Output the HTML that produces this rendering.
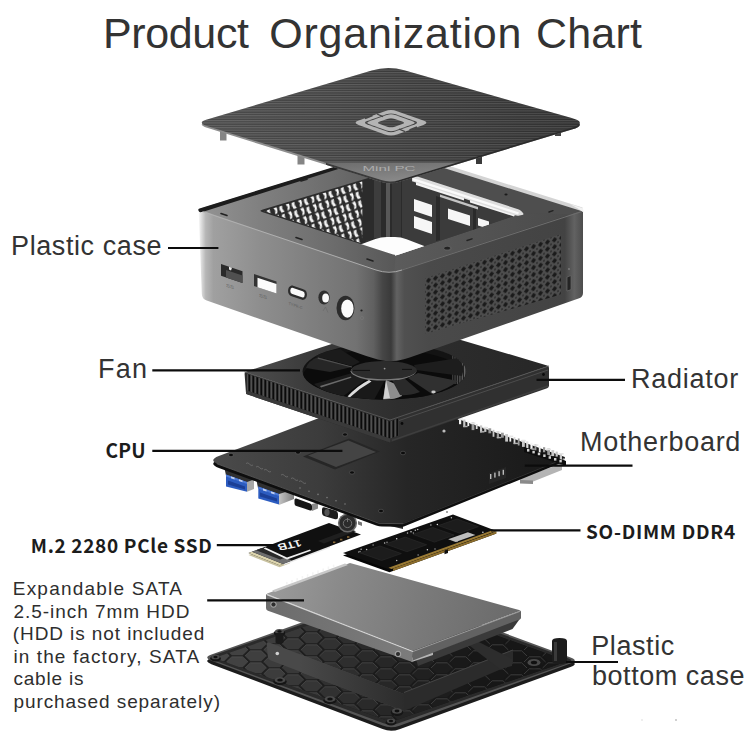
<!DOCTYPE html>
<html lang="en">
<head>
<meta charset="utf-8">
<title>Product Organization Chart</title>
<style>
html,body{margin:0;padding:0;background:#fff;}
body{width:750px;height:750px;position:relative;overflow:hidden;font-family:"Liberation Sans",sans-serif;color:#333;}
#art{position:absolute;left:0;top:0;width:750px;height:750px;}
</style>
</head>
<body>
<svg id="art" viewBox="0 0 750 750" width="750" height="750">
<defs>
<clipPath id="botc"><path d="M219.6,660.0 Q214.0,658.0 219.7,656.0 L390.0,597.0 L562.4,659.0 Q568.0,661.0 562.3,663.0 L396.7,720.0 Q391.0,722.0 385.4,720.0 Z"/></clipPath>
<linearGradient id="botg" gradientUnits="userSpaceOnUse" x1="206" y1="0" x2="576" y2="0"><stop offset="0" stop-color="#222"/><stop offset="1" stop-color="#141414"/></linearGradient>
<linearGradient id="stripg" gradientUnits="userSpaceOnUse" x1="300" y1="0" x2="404" y2="0"><stop offset="0" stop-color="#494949"/><stop offset="1" stop-color="#2c2c2c"/></linearGradient>
<linearGradient id="hddtop" gradientUnits="userSpaceOnUse" x1="266" y1="580" x2="500" y2="640"><stop offset="0" stop-color="#9c9c9c"/><stop offset=".3" stop-color="#8a8a8a"/><stop offset=".65" stop-color="#7a7a7a"/><stop offset="1" stop-color="#6c6c6c"/></linearGradient>
<linearGradient id="hddfl" gradientUnits="userSpaceOnUse" x1="266" y1="0" x2="413" y2="0"><stop offset="0" stop-color="#6c6c6c"/><stop offset="1" stop-color="#7c7c7c"/></linearGradient>
<linearGradient id="mbtop" gradientUnits="userSpaceOnUse" x1="215" y1="0" x2="565" y2="0"><stop offset="0" stop-color="#4a4a4a"/><stop offset=".3" stop-color="#3c3c3c"/><stop offset=".55" stop-color="#262626"/><stop offset="1" stop-color="#181818"/></linearGradient>
<linearGradient id="usbm" x1="0" y1="0" x2="1" y2="0"><stop offset="0" stop-color="#c4c4c4"/><stop offset="1" stop-color="#7c7c7c"/></linearGradient>
<linearGradient id="radtop" gradientUnits="userSpaceOnUse" x1="245" y1="0" x2="549" y2="0"><stop offset="0" stop-color="#4e4e4e"/><stop offset=".2" stop-color="#3c3c3c"/><stop offset=".5" stop-color="#2e2e2e"/><stop offset="1" stop-color="#272727"/></linearGradient>
<pattern id="fins" width="4" height="10" patternUnits="userSpaceOnUse" patternTransform="translate(246.5,0)"><rect width="4" height="10" fill="#0a0a0a"/><rect x="0" width="1.5" height="10" fill="#686868"/></pattern>
<clipPath id="fanc"><ellipse cx="384.4" cy="371.5" rx="81.8" ry="28.2"/></clipPath>
<linearGradient id="cfl" gradientUnits="userSpaceOnUse" x1="198" y1="0" x2="584" y2="0"><stop offset="0" stop-color="#ffffff"/><stop offset=".008" stop-color="#e0e0e0"/><stop offset=".02" stop-color="#b6b6b6"/><stop offset=".04" stop-color="#a0a0a0"/><stop offset=".16" stop-color="#8e8e8e"/><stop offset=".32" stop-color="#7c7c7c"/><stop offset=".41" stop-color="#727272"/><stop offset=".455" stop-color="#606060"/><stop offset=".478" stop-color="#464646"/><stop offset=".5" stop-color="#3a3a3a"/><stop offset=".515" stop-color="#626262"/><stop offset=".535" stop-color="#505050"/><stop offset=".6" stop-color="#4a4a4a"/><stop offset=".95" stop-color="#434343"/><stop offset=".975" stop-color="#626262"/><stop offset="1" stop-color="#4a4a4a"/></linearGradient>
<linearGradient id="rimL" gradientUnits="userSpaceOnUse" x1="199" y1="0" x2="400" y2="0"><stop offset="0" stop-color="#949494"/><stop offset=".3" stop-color="#808080"/><stop offset=".7" stop-color="#6a6a6a"/><stop offset="1" stop-color="#565656"/></linearGradient>
<linearGradient id="rimR" gradientUnits="userSpaceOnUse" x1="390" y1="0" x2="583" y2="0"><stop offset="0" stop-color="#5c5c5c"/><stop offset=".4" stop-color="#545454"/><stop offset="1" stop-color="#4a4a4a"/></linearGradient>
<pattern id="ventw" width="12.3" height="8.6" patternUnits="userSpaceOnUse" patternTransform="matrix(1,-0.3,0.30,1,259,211)"><rect width="12.3" height="8.6" fill="#2b2b2b"/><path d="M1.4,0.8 L4.6,0.2 L5.0,3.4 L4.0,7.0 L1.6,7.6 L2.8,4.0Z" fill="#f7f7f7"/><path d="M7.4,1.4 L10.4,0.8 L9.8,4.2 L11.0,7.6 L8.0,8.0 L7.0,4.6Z" fill="#f0f0f0"/></pattern>
<pattern id="ventd" width="7" height="7" patternUnits="userSpaceOnUse" patternTransform="matrix(1,-0.322,0,1,425,278)"><rect width="7" height="7" fill="#4d4d4d"/><path d="M0.9,3.5 L3.5,0.8 L6.1,3.5 L3.5,6.2Z" fill="#1a1a1a"/><circle cx="0" cy="0" r=".8" fill="#1a1a1a"/><circle cx="7" cy="0" r=".8" fill="#1a1a1a"/><circle cx="0" cy="7" r=".8" fill="#1a1a1a"/><circle cx="7" cy="7" r=".8" fill="#1a1a1a"/></pattern>
<clipPath id="rimc"><path d="M201.8,210.5 Q199.0,209.5 201.9,208.6 L391.0,151.0 L580.1,209.1 Q583.0,210.0 580.2,210.9 L402.3,269.6 Q389.0,274.0 375.7,269.5 Z M262.8,212.3 Q258.0,210.8 262.8,209.4 L390.0,171.5 L520.1,212.1 Q523.0,213.0 520.2,214.0 L398.8,254.5 Q396.0,255.5 393.1,254.6 Z" clip-rule="evenodd"/></clipPath>
<linearGradient id="lidg" gradientUnits="userSpaceOnUse" x1="200" y1="0" x2="580" y2="0"><stop offset="0" stop-color="#545454"/><stop offset=".3" stop-color="#4c4c4c"/><stop offset=".55" stop-color="#434343"/><stop offset="1" stop-color="#353535"/></linearGradient>
<linearGradient id="bandg" x1="0" y1="0" x2="0.3" y2="1"><stop offset="0" stop-color="#6c6c6c"/><stop offset="1" stop-color="#929292"/></linearGradient>
<pattern id="ridge" width="6" height="2.4" patternUnits="userSpaceOnUse"><rect width="6" height="1.1" fill="#fff" opacity=".12"/><rect y="1.3" width="6" height=".9" fill="#000" opacity=".2"/></pattern>
<clipPath id="lidc"><path d="M207.0,126.0 Q196.5,122.7 207.0,119.6 L371.7,70.5 Q388.0,65.6 404.3,70.3 L571.7,118.1 Q588.0,122.8 571.7,127.7 L398.6,180.2 Q390.0,182.8 381.4,180.1 Z"/></clipPath>
</defs>
<g id="bottom">
<path d="M211.4,660.7 Q203.0,657.5 211.5,654.5 L390.0,591.0 L570.6,657.4 Q579.0,660.5 570.5,663.6 L399.5,725.7 Q391.0,728.8 382.6,725.6 Z" fill="#1c1c1c" transform="translate(0,3.5)"/>
<path d="M211.4,660.7 Q203.0,657.5 211.5,654.5 L390.0,591.0 L570.6,657.4 Q579.0,660.5 570.5,663.6 L399.5,725.7 Q391.0,728.8 382.6,725.6 Z" fill="#555"/>
<path d="M214.5,660.5 Q207.0,657.7 214.5,655.1 L390.0,593.5 L567.5,658.0 Q575.0,660.7 567.5,663.4 L398.5,723.3 Q391.0,726.0 383.5,723.2 Z" fill="#2a2a2a"/>
<path d="M219.6,660.0 Q214.0,658.0 219.7,656.0 L390.0,597.0 L562.4,659.0 Q568.0,661.0 562.3,663.0 L396.7,720.0 Q391.0,722.0 385.4,720.0 Z" fill="url(#botg)"/>
<g clip-path="url(#botc)">
<path d="M189.2,590.0 L194.6,584.8 L205.4,584.8 L210.8,590.0 L205.4,595.2 L194.6,595.2Z" fill="#494949"/>
<path d="M189.2,602.0 L194.6,596.8 L205.4,596.8 L210.8,602.0 L205.4,607.2 L194.6,607.2Z" fill="#494949"/>
<path d="M189.2,614.0 L194.6,608.8 L205.4,608.8 L210.8,614.0 L205.4,619.2 L194.6,619.2Z" fill="#494949"/>
<path d="M189.2,626.0 L194.6,620.8 L205.4,620.8 L210.8,626.0 L205.4,631.2 L194.6,631.2Z" fill="#494949"/>
<path d="M189.2,638.0 L194.6,632.8 L205.4,632.8 L210.8,638.0 L205.4,643.2 L194.6,643.2Z" fill="#494949"/>
<path d="M189.2,650.0 L194.6,644.8 L205.4,644.8 L210.8,650.0 L205.4,655.2 L194.6,655.2Z" fill="#494949"/>
<path d="M189.2,662.0 L194.6,656.8 L205.4,656.8 L210.8,662.0 L205.4,667.2 L194.6,667.2Z" fill="#494949"/>
<path d="M189.2,674.0 L194.6,668.8 L205.4,668.8 L210.8,674.0 L205.4,679.2 L194.6,679.2Z" fill="#494949"/>
<path d="M189.2,686.0 L194.6,680.8 L205.4,680.8 L210.8,686.0 L205.4,691.2 L194.6,691.2Z" fill="#494949"/>
<path d="M189.2,698.0 L194.6,692.8 L205.4,692.8 L210.8,698.0 L205.4,703.2 L194.6,703.2Z" fill="#494949"/>
<path d="M189.2,710.0 L194.6,704.8 L205.4,704.8 L210.8,710.0 L205.4,715.2 L194.6,715.2Z" fill="#494949"/>
<path d="M189.2,722.0 L194.6,716.8 L205.4,716.8 L210.8,722.0 L205.4,727.2 L194.6,727.2Z" fill="#494949"/>
<path d="M189.2,734.0 L194.6,728.8 L205.4,728.8 L210.8,734.0 L205.4,739.2 L194.6,739.2Z" fill="#494949"/>
<path d="M207.8,596.0 L213.2,590.8 L224.0,590.8 L229.4,596.0 L224.0,601.2 L213.2,601.2Z" fill="#464646"/>
<path d="M207.8,608.0 L213.2,602.8 L224.0,602.8 L229.4,608.0 L224.0,613.2 L213.2,613.2Z" fill="#464646"/>
<path d="M207.8,620.0 L213.2,614.8 L224.0,614.8 L229.4,620.0 L224.0,625.2 L213.2,625.2Z" fill="#464646"/>
<path d="M207.8,632.0 L213.2,626.8 L224.0,626.8 L229.4,632.0 L224.0,637.2 L213.2,637.2Z" fill="#464646"/>
<path d="M207.8,644.0 L213.2,638.8 L224.0,638.8 L229.4,644.0 L224.0,649.2 L213.2,649.2Z" fill="#464646"/>
<path d="M207.8,656.0 L213.2,650.8 L224.0,650.8 L229.4,656.0 L224.0,661.2 L213.2,661.2Z" fill="#464646"/>
<path d="M207.8,668.0 L213.2,662.8 L224.0,662.8 L229.4,668.0 L224.0,673.2 L213.2,673.2Z" fill="#464646"/>
<path d="M207.8,680.0 L213.2,674.8 L224.0,674.8 L229.4,680.0 L224.0,685.2 L213.2,685.2Z" fill="#464646"/>
<path d="M207.8,692.0 L213.2,686.8 L224.0,686.8 L229.4,692.0 L224.0,697.2 L213.2,697.2Z" fill="#464646"/>
<path d="M207.8,704.0 L213.2,698.8 L224.0,698.8 L229.4,704.0 L224.0,709.2 L213.2,709.2Z" fill="#464646"/>
<path d="M207.8,716.0 L213.2,710.8 L224.0,710.8 L229.4,716.0 L224.0,721.2 L213.2,721.2Z" fill="#464646"/>
<path d="M207.8,728.0 L213.2,722.8 L224.0,722.8 L229.4,728.0 L224.0,733.2 L213.2,733.2Z" fill="#464646"/>
<path d="M226.4,590.0 L231.8,584.8 L242.6,584.8 L248.0,590.0 L242.6,595.2 L231.8,595.2Z" fill="#424242"/>
<path d="M226.4,602.0 L231.8,596.8 L242.6,596.8 L248.0,602.0 L242.6,607.2 L231.8,607.2Z" fill="#424242"/>
<path d="M226.4,614.0 L231.8,608.8 L242.6,608.8 L248.0,614.0 L242.6,619.2 L231.8,619.2Z" fill="#424242"/>
<path d="M226.4,626.0 L231.8,620.8 L242.6,620.8 L248.0,626.0 L242.6,631.2 L231.8,631.2Z" fill="#424242"/>
<path d="M226.4,638.0 L231.8,632.8 L242.6,632.8 L248.0,638.0 L242.6,643.2 L231.8,643.2Z" fill="#424242"/>
<path d="M226.4,650.0 L231.8,644.8 L242.6,644.8 L248.0,650.0 L242.6,655.2 L231.8,655.2Z" fill="#424242"/>
<path d="M226.4,662.0 L231.8,656.8 L242.6,656.8 L248.0,662.0 L242.6,667.2 L231.8,667.2Z" fill="#424242"/>
<path d="M226.4,674.0 L231.8,668.8 L242.6,668.8 L248.0,674.0 L242.6,679.2 L231.8,679.2Z" fill="#424242"/>
<path d="M226.4,686.0 L231.8,680.8 L242.6,680.8 L248.0,686.0 L242.6,691.2 L231.8,691.2Z" fill="#424242"/>
<path d="M226.4,698.0 L231.8,692.8 L242.6,692.8 L248.0,698.0 L242.6,703.2 L231.8,703.2Z" fill="#424242"/>
<path d="M226.4,710.0 L231.8,704.8 L242.6,704.8 L248.0,710.0 L242.6,715.2 L231.8,715.2Z" fill="#424242"/>
<path d="M226.4,722.0 L231.8,716.8 L242.6,716.8 L248.0,722.0 L242.6,727.2 L231.8,727.2Z" fill="#424242"/>
<path d="M226.4,734.0 L231.8,728.8 L242.6,728.8 L248.0,734.0 L242.6,739.2 L231.8,739.2Z" fill="#424242"/>
<path d="M245.0,596.0 L250.4,590.8 L261.2,590.8 L266.6,596.0 L261.2,601.2 L250.4,601.2Z" fill="#3f3f3f"/>
<path d="M245.0,608.0 L250.4,602.8 L261.2,602.8 L266.6,608.0 L261.2,613.2 L250.4,613.2Z" fill="#3f3f3f"/>
<path d="M245.0,620.0 L250.4,614.8 L261.2,614.8 L266.6,620.0 L261.2,625.2 L250.4,625.2Z" fill="#3f3f3f"/>
<path d="M245.0,632.0 L250.4,626.8 L261.2,626.8 L266.6,632.0 L261.2,637.2 L250.4,637.2Z" fill="#3f3f3f"/>
<path d="M245.0,644.0 L250.4,638.8 L261.2,638.8 L266.6,644.0 L261.2,649.2 L250.4,649.2Z" fill="#3f3f3f"/>
<path d="M245.0,656.0 L250.4,650.8 L261.2,650.8 L266.6,656.0 L261.2,661.2 L250.4,661.2Z" fill="#3f3f3f"/>
<path d="M245.0,668.0 L250.4,662.8 L261.2,662.8 L266.6,668.0 L261.2,673.2 L250.4,673.2Z" fill="#3f3f3f"/>
<path d="M245.0,680.0 L250.4,674.8 L261.2,674.8 L266.6,680.0 L261.2,685.2 L250.4,685.2Z" fill="#3f3f3f"/>
<path d="M245.0,692.0 L250.4,686.8 L261.2,686.8 L266.6,692.0 L261.2,697.2 L250.4,697.2Z" fill="#3f3f3f"/>
<path d="M245.0,704.0 L250.4,698.8 L261.2,698.8 L266.6,704.0 L261.2,709.2 L250.4,709.2Z" fill="#3f3f3f"/>
<path d="M245.0,716.0 L250.4,710.8 L261.2,710.8 L266.6,716.0 L261.2,721.2 L250.4,721.2Z" fill="#3f3f3f"/>
<path d="M245.0,728.0 L250.4,722.8 L261.2,722.8 L266.6,728.0 L261.2,733.2 L250.4,733.2Z" fill="#3f3f3f"/>
<path d="M263.6,590.0 L269.0,584.8 L279.8,584.8 L285.2,590.0 L279.8,595.2 L269.0,595.2Z" fill="#3c3c3c"/>
<path d="M263.6,602.0 L269.0,596.8 L279.8,596.8 L285.2,602.0 L279.8,607.2 L269.0,607.2Z" fill="#3c3c3c"/>
<path d="M263.6,614.0 L269.0,608.8 L279.8,608.8 L285.2,614.0 L279.8,619.2 L269.0,619.2Z" fill="#3c3c3c"/>
<path d="M263.6,626.0 L269.0,620.8 L279.8,620.8 L285.2,626.0 L279.8,631.2 L269.0,631.2Z" fill="#3c3c3c"/>
<path d="M263.6,638.0 L269.0,632.8 L279.8,632.8 L285.2,638.0 L279.8,643.2 L269.0,643.2Z" fill="#3c3c3c"/>
<path d="M263.6,650.0 L269.0,644.8 L279.8,644.8 L285.2,650.0 L279.8,655.2 L269.0,655.2Z" fill="#3c3c3c"/>
<path d="M263.6,662.0 L269.0,656.8 L279.8,656.8 L285.2,662.0 L279.8,667.2 L269.0,667.2Z" fill="#3c3c3c"/>
<path d="M263.6,674.0 L269.0,668.8 L279.8,668.8 L285.2,674.0 L279.8,679.2 L269.0,679.2Z" fill="#3c3c3c"/>
<path d="M263.6,686.0 L269.0,680.8 L279.8,680.8 L285.2,686.0 L279.8,691.2 L269.0,691.2Z" fill="#3c3c3c"/>
<path d="M263.6,698.0 L269.0,692.8 L279.8,692.8 L285.2,698.0 L279.8,703.2 L269.0,703.2Z" fill="#3c3c3c"/>
<path d="M263.6,710.0 L269.0,704.8 L279.8,704.8 L285.2,710.0 L279.8,715.2 L269.0,715.2Z" fill="#3c3c3c"/>
<path d="M263.6,722.0 L269.0,716.8 L279.8,716.8 L285.2,722.0 L279.8,727.2 L269.0,727.2Z" fill="#3c3c3c"/>
<path d="M263.6,734.0 L269.0,728.8 L279.8,728.8 L285.2,734.0 L279.8,739.2 L269.0,739.2Z" fill="#3c3c3c"/>
<path d="M282.2,596.0 L287.6,590.8 L298.4,590.8 L303.8,596.0 L298.4,601.2 L287.6,601.2Z" fill="#383838"/>
<path d="M282.2,608.0 L287.6,602.8 L298.4,602.8 L303.8,608.0 L298.4,613.2 L287.6,613.2Z" fill="#383838"/>
<path d="M282.2,620.0 L287.6,614.8 L298.4,614.8 L303.8,620.0 L298.4,625.2 L287.6,625.2Z" fill="#383838"/>
<path d="M282.2,632.0 L287.6,626.8 L298.4,626.8 L303.8,632.0 L298.4,637.2 L287.6,637.2Z" fill="#383838"/>
<path d="M282.2,644.0 L287.6,638.8 L298.4,638.8 L303.8,644.0 L298.4,649.2 L287.6,649.2Z" fill="#383838"/>
<path d="M282.2,656.0 L287.6,650.8 L298.4,650.8 L303.8,656.0 L298.4,661.2 L287.6,661.2Z" fill="#383838"/>
<path d="M282.2,668.0 L287.6,662.8 L298.4,662.8 L303.8,668.0 L298.4,673.2 L287.6,673.2Z" fill="#383838"/>
<path d="M282.2,680.0 L287.6,674.8 L298.4,674.8 L303.8,680.0 L298.4,685.2 L287.6,685.2Z" fill="#383838"/>
<path d="M282.2,692.0 L287.6,686.8 L298.4,686.8 L303.8,692.0 L298.4,697.2 L287.6,697.2Z" fill="#383838"/>
<path d="M282.2,704.0 L287.6,698.8 L298.4,698.8 L303.8,704.0 L298.4,709.2 L287.6,709.2Z" fill="#383838"/>
<path d="M282.2,716.0 L287.6,710.8 L298.4,710.8 L303.8,716.0 L298.4,721.2 L287.6,721.2Z" fill="#383838"/>
<path d="M282.2,728.0 L287.6,722.8 L298.4,722.8 L303.8,728.0 L298.4,733.2 L287.6,733.2Z" fill="#383838"/>
<path d="M300.8,590.0 L306.2,584.8 L317.0,584.8 L322.4,590.0 L317.0,595.2 L306.2,595.2Z" fill="#353535"/>
<path d="M300.8,602.0 L306.2,596.8 L317.0,596.8 L322.4,602.0 L317.0,607.2 L306.2,607.2Z" fill="#353535"/>
<path d="M300.8,614.0 L306.2,608.8 L317.0,608.8 L322.4,614.0 L317.0,619.2 L306.2,619.2Z" fill="#353535"/>
<path d="M300.8,626.0 L306.2,620.8 L317.0,620.8 L322.4,626.0 L317.0,631.2 L306.2,631.2Z" fill="#353535"/>
<path d="M300.8,638.0 L306.2,632.8 L317.0,632.8 L322.4,638.0 L317.0,643.2 L306.2,643.2Z" fill="#353535"/>
<path d="M300.8,650.0 L306.2,644.8 L317.0,644.8 L322.4,650.0 L317.0,655.2 L306.2,655.2Z" fill="#353535"/>
<path d="M300.8,662.0 L306.2,656.8 L317.0,656.8 L322.4,662.0 L317.0,667.2 L306.2,667.2Z" fill="#353535"/>
<path d="M300.8,674.0 L306.2,668.8 L317.0,668.8 L322.4,674.0 L317.0,679.2 L306.2,679.2Z" fill="#353535"/>
<path d="M300.8,686.0 L306.2,680.8 L317.0,680.8 L322.4,686.0 L317.0,691.2 L306.2,691.2Z" fill="#353535"/>
<path d="M300.8,698.0 L306.2,692.8 L317.0,692.8 L322.4,698.0 L317.0,703.2 L306.2,703.2Z" fill="#353535"/>
<path d="M300.8,710.0 L306.2,704.8 L317.0,704.8 L322.4,710.0 L317.0,715.2 L306.2,715.2Z" fill="#353535"/>
<path d="M300.8,722.0 L306.2,716.8 L317.0,716.8 L322.4,722.0 L317.0,727.2 L306.2,727.2Z" fill="#353535"/>
<path d="M300.8,734.0 L306.2,728.8 L317.0,728.8 L322.4,734.0 L317.0,739.2 L306.2,739.2Z" fill="#353535"/>
<path d="M319.4,596.0 L324.8,590.8 L335.6,590.8 L341.0,596.0 L335.6,601.2 L324.8,601.2Z" fill="#313131"/>
<path d="M319.4,608.0 L324.8,602.8 L335.6,602.8 L341.0,608.0 L335.6,613.2 L324.8,613.2Z" fill="#313131"/>
<path d="M319.4,620.0 L324.8,614.8 L335.6,614.8 L341.0,620.0 L335.6,625.2 L324.8,625.2Z" fill="#313131"/>
<path d="M319.4,632.0 L324.8,626.8 L335.6,626.8 L341.0,632.0 L335.6,637.2 L324.8,637.2Z" fill="#313131"/>
<path d="M319.4,644.0 L324.8,638.8 L335.6,638.8 L341.0,644.0 L335.6,649.2 L324.8,649.2Z" fill="#313131"/>
<path d="M319.4,656.0 L324.8,650.8 L335.6,650.8 L341.0,656.0 L335.6,661.2 L324.8,661.2Z" fill="#313131"/>
<path d="M319.4,668.0 L324.8,662.8 L335.6,662.8 L341.0,668.0 L335.6,673.2 L324.8,673.2Z" fill="#313131"/>
<path d="M319.4,680.0 L324.8,674.8 L335.6,674.8 L341.0,680.0 L335.6,685.2 L324.8,685.2Z" fill="#313131"/>
<path d="M319.4,692.0 L324.8,686.8 L335.6,686.8 L341.0,692.0 L335.6,697.2 L324.8,697.2Z" fill="#313131"/>
<path d="M319.4,704.0 L324.8,698.8 L335.6,698.8 L341.0,704.0 L335.6,709.2 L324.8,709.2Z" fill="#313131"/>
<path d="M319.4,716.0 L324.8,710.8 L335.6,710.8 L341.0,716.0 L335.6,721.2 L324.8,721.2Z" fill="#313131"/>
<path d="M319.4,728.0 L324.8,722.8 L335.6,722.8 L341.0,728.0 L335.6,733.2 L324.8,733.2Z" fill="#313131"/>
<path d="M338.0,590.0 L343.4,584.8 L354.2,584.8 L359.6,590.0 L354.2,595.2 L343.4,595.2Z" fill="#2e2e2e"/>
<path d="M338.0,602.0 L343.4,596.8 L354.2,596.8 L359.6,602.0 L354.2,607.2 L343.4,607.2Z" fill="#2e2e2e"/>
<path d="M338.0,614.0 L343.4,608.8 L354.2,608.8 L359.6,614.0 L354.2,619.2 L343.4,619.2Z" fill="#2e2e2e"/>
<path d="M338.0,626.0 L343.4,620.8 L354.2,620.8 L359.6,626.0 L354.2,631.2 L343.4,631.2Z" fill="#2e2e2e"/>
<path d="M338.0,638.0 L343.4,632.8 L354.2,632.8 L359.6,638.0 L354.2,643.2 L343.4,643.2Z" fill="#2e2e2e"/>
<path d="M338.0,650.0 L343.4,644.8 L354.2,644.8 L359.6,650.0 L354.2,655.2 L343.4,655.2Z" fill="#2e2e2e"/>
<path d="M338.0,662.0 L343.4,656.8 L354.2,656.8 L359.6,662.0 L354.2,667.2 L343.4,667.2Z" fill="#2e2e2e"/>
<path d="M338.0,674.0 L343.4,668.8 L354.2,668.8 L359.6,674.0 L354.2,679.2 L343.4,679.2Z" fill="#2e2e2e"/>
<path d="M338.0,686.0 L343.4,680.8 L354.2,680.8 L359.6,686.0 L354.2,691.2 L343.4,691.2Z" fill="#2e2e2e"/>
<path d="M338.0,698.0 L343.4,692.8 L354.2,692.8 L359.6,698.0 L354.2,703.2 L343.4,703.2Z" fill="#2e2e2e"/>
<path d="M338.0,710.0 L343.4,704.8 L354.2,704.8 L359.6,710.0 L354.2,715.2 L343.4,715.2Z" fill="#2e2e2e"/>
<path d="M338.0,722.0 L343.4,716.8 L354.2,716.8 L359.6,722.0 L354.2,727.2 L343.4,727.2Z" fill="#2e2e2e"/>
<path d="M338.0,734.0 L343.4,728.8 L354.2,728.8 L359.6,734.0 L354.2,739.2 L343.4,739.2Z" fill="#2e2e2e"/>
<path d="M356.6,596.0 L362.0,590.8 L372.8,590.8 L378.2,596.0 L372.8,601.2 L362.0,601.2Z" fill="#2a2a2a"/>
<path d="M356.6,608.0 L362.0,602.8 L372.8,602.8 L378.2,608.0 L372.8,613.2 L362.0,613.2Z" fill="#2a2a2a"/>
<path d="M356.6,620.0 L362.0,614.8 L372.8,614.8 L378.2,620.0 L372.8,625.2 L362.0,625.2Z" fill="#2a2a2a"/>
<path d="M356.6,632.0 L362.0,626.8 L372.8,626.8 L378.2,632.0 L372.8,637.2 L362.0,637.2Z" fill="#2a2a2a"/>
<path d="M356.6,644.0 L362.0,638.8 L372.8,638.8 L378.2,644.0 L372.8,649.2 L362.0,649.2Z" fill="#2a2a2a"/>
<path d="M356.6,656.0 L362.0,650.8 L372.8,650.8 L378.2,656.0 L372.8,661.2 L362.0,661.2Z" fill="#2a2a2a"/>
<path d="M356.6,668.0 L362.0,662.8 L372.8,662.8 L378.2,668.0 L372.8,673.2 L362.0,673.2Z" fill="#2a2a2a"/>
<path d="M356.6,680.0 L362.0,674.8 L372.8,674.8 L378.2,680.0 L372.8,685.2 L362.0,685.2Z" fill="#2a2a2a"/>
<path d="M356.6,692.0 L362.0,686.8 L372.8,686.8 L378.2,692.0 L372.8,697.2 L362.0,697.2Z" fill="#2a2a2a"/>
<path d="M356.6,704.0 L362.0,698.8 L372.8,698.8 L378.2,704.0 L372.8,709.2 L362.0,709.2Z" fill="#2a2a2a"/>
<path d="M356.6,716.0 L362.0,710.8 L372.8,710.8 L378.2,716.0 L372.8,721.2 L362.0,721.2Z" fill="#2a2a2a"/>
<path d="M356.6,728.0 L362.0,722.8 L372.8,722.8 L378.2,728.0 L372.8,733.2 L362.0,733.2Z" fill="#2a2a2a"/>
<path d="M375.2,590.0 L380.6,584.8 L391.4,584.8 L396.8,590.0 L391.4,595.2 L380.6,595.2Z" fill="#272727"/>
<path d="M375.2,602.0 L380.6,596.8 L391.4,596.8 L396.8,602.0 L391.4,607.2 L380.6,607.2Z" fill="#272727"/>
<path d="M375.2,614.0 L380.6,608.8 L391.4,608.8 L396.8,614.0 L391.4,619.2 L380.6,619.2Z" fill="#272727"/>
<path d="M375.2,626.0 L380.6,620.8 L391.4,620.8 L396.8,626.0 L391.4,631.2 L380.6,631.2Z" fill="#272727"/>
<path d="M375.2,638.0 L380.6,632.8 L391.4,632.8 L396.8,638.0 L391.4,643.2 L380.6,643.2Z" fill="#272727"/>
<path d="M375.2,650.0 L380.6,644.8 L391.4,644.8 L396.8,650.0 L391.4,655.2 L380.6,655.2Z" fill="#272727"/>
<path d="M375.2,662.0 L380.6,656.8 L391.4,656.8 L396.8,662.0 L391.4,667.2 L380.6,667.2Z" fill="#272727"/>
<path d="M375.2,674.0 L380.6,668.8 L391.4,668.8 L396.8,674.0 L391.4,679.2 L380.6,679.2Z" fill="#272727"/>
<path d="M375.2,686.0 L380.6,680.8 L391.4,680.8 L396.8,686.0 L391.4,691.2 L380.6,691.2Z" fill="#272727"/>
<path d="M375.2,698.0 L380.6,692.8 L391.4,692.8 L396.8,698.0 L391.4,703.2 L380.6,703.2Z" fill="#272727"/>
<path d="M375.2,710.0 L380.6,704.8 L391.4,704.8 L396.8,710.0 L391.4,715.2 L380.6,715.2Z" fill="#272727"/>
<path d="M375.2,722.0 L380.6,716.8 L391.4,716.8 L396.8,722.0 L391.4,727.2 L380.6,727.2Z" fill="#272727"/>
<path d="M375.2,734.0 L380.6,728.8 L391.4,728.8 L396.8,734.0 L391.4,739.2 L380.6,739.2Z" fill="#272727"/>
<path d="M393.8,596.0 L399.2,590.8 L410.0,590.8 L415.4,596.0 L410.0,601.2 L399.2,601.2Z" fill="#242424"/>
<path d="M393.8,608.0 L399.2,602.8 L410.0,602.8 L415.4,608.0 L410.0,613.2 L399.2,613.2Z" fill="#242424"/>
<path d="M393.8,620.0 L399.2,614.8 L410.0,614.8 L415.4,620.0 L410.0,625.2 L399.2,625.2Z" fill="#242424"/>
<path d="M393.8,632.0 L399.2,626.8 L410.0,626.8 L415.4,632.0 L410.0,637.2 L399.2,637.2Z" fill="#242424"/>
<path d="M393.8,644.0 L399.2,638.8 L410.0,638.8 L415.4,644.0 L410.0,649.2 L399.2,649.2Z" fill="#242424"/>
<path d="M393.8,656.0 L399.2,650.8 L410.0,650.8 L415.4,656.0 L410.0,661.2 L399.2,661.2Z" fill="#242424"/>
<path d="M393.8,668.0 L399.2,662.8 L410.0,662.8 L415.4,668.0 L410.0,673.2 L399.2,673.2Z" fill="#242424"/>
<path d="M393.8,680.0 L399.2,674.8 L410.0,674.8 L415.4,680.0 L410.0,685.2 L399.2,685.2Z" fill="#242424"/>
<path d="M393.8,692.0 L399.2,686.8 L410.0,686.8 L415.4,692.0 L410.0,697.2 L399.2,697.2Z" fill="#242424"/>
<path d="M393.8,704.0 L399.2,698.8 L410.0,698.8 L415.4,704.0 L410.0,709.2 L399.2,709.2Z" fill="#242424"/>
<path d="M393.8,716.0 L399.2,710.8 L410.0,710.8 L415.4,716.0 L410.0,721.2 L399.2,721.2Z" fill="#242424"/>
<path d="M393.8,728.0 L399.2,722.8 L410.0,722.8 L415.4,728.0 L410.0,733.2 L399.2,733.2Z" fill="#242424"/>
<path d="M412.4,590.0 L417.8,584.8 L428.6,584.8 L434.0,590.0 L428.6,595.2 L417.8,595.2Z" fill="#202020"/>
<path d="M412.4,602.0 L417.8,596.8 L428.6,596.8 L434.0,602.0 L428.6,607.2 L417.8,607.2Z" fill="#202020"/>
<path d="M412.4,614.0 L417.8,608.8 L428.6,608.8 L434.0,614.0 L428.6,619.2 L417.8,619.2Z" fill="#202020"/>
<path d="M412.4,626.0 L417.8,620.8 L428.6,620.8 L434.0,626.0 L428.6,631.2 L417.8,631.2Z" fill="#202020"/>
<path d="M412.4,638.0 L417.8,632.8 L428.6,632.8 L434.0,638.0 L428.6,643.2 L417.8,643.2Z" fill="#202020"/>
<path d="M412.4,650.0 L417.8,644.8 L428.6,644.8 L434.0,650.0 L428.6,655.2 L417.8,655.2Z" fill="#202020"/>
<path d="M412.4,662.0 L417.8,656.8 L428.6,656.8 L434.0,662.0 L428.6,667.2 L417.8,667.2Z" fill="#202020"/>
<path d="M412.4,674.0 L417.8,668.8 L428.6,668.8 L434.0,674.0 L428.6,679.2 L417.8,679.2Z" fill="#202020"/>
<path d="M412.4,686.0 L417.8,680.8 L428.6,680.8 L434.0,686.0 L428.6,691.2 L417.8,691.2Z" fill="#202020"/>
<path d="M412.4,698.0 L417.8,692.8 L428.6,692.8 L434.0,698.0 L428.6,703.2 L417.8,703.2Z" fill="#202020"/>
<path d="M412.4,710.0 L417.8,704.8 L428.6,704.8 L434.0,710.0 L428.6,715.2 L417.8,715.2Z" fill="#202020"/>
<path d="M412.4,722.0 L417.8,716.8 L428.6,716.8 L434.0,722.0 L428.6,727.2 L417.8,727.2Z" fill="#202020"/>
<path d="M412.4,734.0 L417.8,728.8 L428.6,728.8 L434.0,734.0 L428.6,739.2 L417.8,739.2Z" fill="#202020"/>
<path d="M431.0,596.0 L436.4,590.8 L447.2,590.8 L452.6,596.0 L447.2,601.2 L436.4,601.2Z" fill="#1d1d1d"/>
<path d="M431.0,608.0 L436.4,602.8 L447.2,602.8 L452.6,608.0 L447.2,613.2 L436.4,613.2Z" fill="#1d1d1d"/>
<path d="M431.0,620.0 L436.4,614.8 L447.2,614.8 L452.6,620.0 L447.2,625.2 L436.4,625.2Z" fill="#1d1d1d"/>
<path d="M431.0,632.0 L436.4,626.8 L447.2,626.8 L452.6,632.0 L447.2,637.2 L436.4,637.2Z" fill="#1d1d1d"/>
<path d="M431.0,644.0 L436.4,638.8 L447.2,638.8 L452.6,644.0 L447.2,649.2 L436.4,649.2Z" fill="#1d1d1d"/>
<path d="M431.0,656.0 L436.4,650.8 L447.2,650.8 L452.6,656.0 L447.2,661.2 L436.4,661.2Z" fill="#1d1d1d"/>
<path d="M431.0,668.0 L436.4,662.8 L447.2,662.8 L452.6,668.0 L447.2,673.2 L436.4,673.2Z" fill="#1d1d1d"/>
<path d="M431.0,680.0 L436.4,674.8 L447.2,674.8 L452.6,680.0 L447.2,685.2 L436.4,685.2Z" fill="#1d1d1d"/>
<path d="M431.0,692.0 L436.4,686.8 L447.2,686.8 L452.6,692.0 L447.2,697.2 L436.4,697.2Z" fill="#1d1d1d"/>
<path d="M431.0,704.0 L436.4,698.8 L447.2,698.8 L452.6,704.0 L447.2,709.2 L436.4,709.2Z" fill="#1d1d1d"/>
<path d="M431.0,716.0 L436.4,710.8 L447.2,710.8 L452.6,716.0 L447.2,721.2 L436.4,721.2Z" fill="#1d1d1d"/>
<path d="M431.0,728.0 L436.4,722.8 L447.2,722.8 L452.6,728.0 L447.2,733.2 L436.4,733.2Z" fill="#1d1d1d"/>
<path d="M449.6,590.0 L455.0,584.8 L465.8,584.8 L471.2,590.0 L465.8,595.2 L455.0,595.2Z" fill="#191919"/>
<path d="M449.6,602.0 L455.0,596.8 L465.8,596.8 L471.2,602.0 L465.8,607.2 L455.0,607.2Z" fill="#191919"/>
<path d="M449.6,614.0 L455.0,608.8 L465.8,608.8 L471.2,614.0 L465.8,619.2 L455.0,619.2Z" fill="#191919"/>
<path d="M449.6,626.0 L455.0,620.8 L465.8,620.8 L471.2,626.0 L465.8,631.2 L455.0,631.2Z" fill="#191919"/>
<path d="M449.6,638.0 L455.0,632.8 L465.8,632.8 L471.2,638.0 L465.8,643.2 L455.0,643.2Z" fill="#191919"/>
<path d="M449.6,650.0 L455.0,644.8 L465.8,644.8 L471.2,650.0 L465.8,655.2 L455.0,655.2Z" fill="#191919"/>
<path d="M449.6,662.0 L455.0,656.8 L465.8,656.8 L471.2,662.0 L465.8,667.2 L455.0,667.2Z" fill="#191919"/>
<path d="M449.6,674.0 L455.0,668.8 L465.8,668.8 L471.2,674.0 L465.8,679.2 L455.0,679.2Z" fill="#191919"/>
<path d="M449.6,686.0 L455.0,680.8 L465.8,680.8 L471.2,686.0 L465.8,691.2 L455.0,691.2Z" fill="#191919"/>
<path d="M449.6,698.0 L455.0,692.8 L465.8,692.8 L471.2,698.0 L465.8,703.2 L455.0,703.2Z" fill="#191919"/>
<path d="M449.6,710.0 L455.0,704.8 L465.8,704.8 L471.2,710.0 L465.8,715.2 L455.0,715.2Z" fill="#191919"/>
<path d="M449.6,722.0 L455.0,716.8 L465.8,716.8 L471.2,722.0 L465.8,727.2 L455.0,727.2Z" fill="#191919"/>
<path d="M449.6,734.0 L455.0,728.8 L465.8,728.8 L471.2,734.0 L465.8,739.2 L455.0,739.2Z" fill="#191919"/>
<path d="M468.2,596.0 L473.6,590.8 L484.4,590.8 L489.8,596.0 L484.4,601.2 L473.6,601.2Z" fill="#171717"/>
<path d="M468.2,608.0 L473.6,602.8 L484.4,602.8 L489.8,608.0 L484.4,613.2 L473.6,613.2Z" fill="#171717"/>
<path d="M468.2,620.0 L473.6,614.8 L484.4,614.8 L489.8,620.0 L484.4,625.2 L473.6,625.2Z" fill="#171717"/>
<path d="M468.2,632.0 L473.6,626.8 L484.4,626.8 L489.8,632.0 L484.4,637.2 L473.6,637.2Z" fill="#171717"/>
<path d="M468.2,644.0 L473.6,638.8 L484.4,638.8 L489.8,644.0 L484.4,649.2 L473.6,649.2Z" fill="#171717"/>
<path d="M468.2,656.0 L473.6,650.8 L484.4,650.8 L489.8,656.0 L484.4,661.2 L473.6,661.2Z" fill="#171717"/>
<path d="M468.2,668.0 L473.6,662.8 L484.4,662.8 L489.8,668.0 L484.4,673.2 L473.6,673.2Z" fill="#171717"/>
<path d="M468.2,680.0 L473.6,674.8 L484.4,674.8 L489.8,680.0 L484.4,685.2 L473.6,685.2Z" fill="#171717"/>
<path d="M468.2,692.0 L473.6,686.8 L484.4,686.8 L489.8,692.0 L484.4,697.2 L473.6,697.2Z" fill="#171717"/>
<path d="M468.2,704.0 L473.6,698.8 L484.4,698.8 L489.8,704.0 L484.4,709.2 L473.6,709.2Z" fill="#171717"/>
<path d="M468.2,716.0 L473.6,710.8 L484.4,710.8 L489.8,716.0 L484.4,721.2 L473.6,721.2Z" fill="#171717"/>
<path d="M468.2,728.0 L473.6,722.8 L484.4,722.8 L489.8,728.0 L484.4,733.2 L473.6,733.2Z" fill="#171717"/>
<path d="M486.8,590.0 L492.2,584.8 L503.0,584.8 L508.4,590.0 L503.0,595.2 L492.2,595.2Z" fill="#171717"/>
<path d="M486.8,602.0 L492.2,596.8 L503.0,596.8 L508.4,602.0 L503.0,607.2 L492.2,607.2Z" fill="#171717"/>
<path d="M486.8,614.0 L492.2,608.8 L503.0,608.8 L508.4,614.0 L503.0,619.2 L492.2,619.2Z" fill="#171717"/>
<path d="M486.8,626.0 L492.2,620.8 L503.0,620.8 L508.4,626.0 L503.0,631.2 L492.2,631.2Z" fill="#171717"/>
<path d="M486.8,638.0 L492.2,632.8 L503.0,632.8 L508.4,638.0 L503.0,643.2 L492.2,643.2Z" fill="#171717"/>
<path d="M486.8,650.0 L492.2,644.8 L503.0,644.8 L508.4,650.0 L503.0,655.2 L492.2,655.2Z" fill="#171717"/>
<path d="M486.8,662.0 L492.2,656.8 L503.0,656.8 L508.4,662.0 L503.0,667.2 L492.2,667.2Z" fill="#171717"/>
<path d="M486.8,674.0 L492.2,668.8 L503.0,668.8 L508.4,674.0 L503.0,679.2 L492.2,679.2Z" fill="#171717"/>
<path d="M486.8,686.0 L492.2,680.8 L503.0,680.8 L508.4,686.0 L503.0,691.2 L492.2,691.2Z" fill="#171717"/>
<path d="M486.8,698.0 L492.2,692.8 L503.0,692.8 L508.4,698.0 L503.0,703.2 L492.2,703.2Z" fill="#171717"/>
<path d="M486.8,710.0 L492.2,704.8 L503.0,704.8 L508.4,710.0 L503.0,715.2 L492.2,715.2Z" fill="#171717"/>
<path d="M486.8,722.0 L492.2,716.8 L503.0,716.8 L508.4,722.0 L503.0,727.2 L492.2,727.2Z" fill="#171717"/>
<path d="M486.8,734.0 L492.2,728.8 L503.0,728.8 L508.4,734.0 L503.0,739.2 L492.2,739.2Z" fill="#171717"/>
<path d="M505.4,596.0 L510.8,590.8 L521.6,590.8 L527.0,596.0 L521.6,601.2 L510.8,601.2Z" fill="#171717"/>
<path d="M505.4,608.0 L510.8,602.8 L521.6,602.8 L527.0,608.0 L521.6,613.2 L510.8,613.2Z" fill="#171717"/>
<path d="M505.4,620.0 L510.8,614.8 L521.6,614.8 L527.0,620.0 L521.6,625.2 L510.8,625.2Z" fill="#171717"/>
<path d="M505.4,632.0 L510.8,626.8 L521.6,626.8 L527.0,632.0 L521.6,637.2 L510.8,637.2Z" fill="#171717"/>
<path d="M505.4,644.0 L510.8,638.8 L521.6,638.8 L527.0,644.0 L521.6,649.2 L510.8,649.2Z" fill="#171717"/>
<path d="M505.4,656.0 L510.8,650.8 L521.6,650.8 L527.0,656.0 L521.6,661.2 L510.8,661.2Z" fill="#171717"/>
<path d="M505.4,668.0 L510.8,662.8 L521.6,662.8 L527.0,668.0 L521.6,673.2 L510.8,673.2Z" fill="#171717"/>
<path d="M505.4,680.0 L510.8,674.8 L521.6,674.8 L527.0,680.0 L521.6,685.2 L510.8,685.2Z" fill="#171717"/>
<path d="M505.4,692.0 L510.8,686.8 L521.6,686.8 L527.0,692.0 L521.6,697.2 L510.8,697.2Z" fill="#171717"/>
<path d="M505.4,704.0 L510.8,698.8 L521.6,698.8 L527.0,704.0 L521.6,709.2 L510.8,709.2Z" fill="#171717"/>
<path d="M505.4,716.0 L510.8,710.8 L521.6,710.8 L527.0,716.0 L521.6,721.2 L510.8,721.2Z" fill="#171717"/>
<path d="M505.4,728.0 L510.8,722.8 L521.6,722.8 L527.0,728.0 L521.6,733.2 L510.8,733.2Z" fill="#171717"/>
<path d="M524.0,590.0 L529.4,584.8 L540.2,584.8 L545.6,590.0 L540.2,595.2 L529.4,595.2Z" fill="#171717"/>
<path d="M524.0,602.0 L529.4,596.8 L540.2,596.8 L545.6,602.0 L540.2,607.2 L529.4,607.2Z" fill="#171717"/>
<path d="M524.0,614.0 L529.4,608.8 L540.2,608.8 L545.6,614.0 L540.2,619.2 L529.4,619.2Z" fill="#171717"/>
<path d="M524.0,626.0 L529.4,620.8 L540.2,620.8 L545.6,626.0 L540.2,631.2 L529.4,631.2Z" fill="#171717"/>
<path d="M524.0,638.0 L529.4,632.8 L540.2,632.8 L545.6,638.0 L540.2,643.2 L529.4,643.2Z" fill="#171717"/>
<path d="M524.0,650.0 L529.4,644.8 L540.2,644.8 L545.6,650.0 L540.2,655.2 L529.4,655.2Z" fill="#171717"/>
<path d="M524.0,662.0 L529.4,656.8 L540.2,656.8 L545.6,662.0 L540.2,667.2 L529.4,667.2Z" fill="#171717"/>
<path d="M524.0,674.0 L529.4,668.8 L540.2,668.8 L545.6,674.0 L540.2,679.2 L529.4,679.2Z" fill="#171717"/>
<path d="M524.0,686.0 L529.4,680.8 L540.2,680.8 L545.6,686.0 L540.2,691.2 L529.4,691.2Z" fill="#171717"/>
<path d="M524.0,698.0 L529.4,692.8 L540.2,692.8 L545.6,698.0 L540.2,703.2 L529.4,703.2Z" fill="#171717"/>
<path d="M524.0,710.0 L529.4,704.8 L540.2,704.8 L545.6,710.0 L540.2,715.2 L529.4,715.2Z" fill="#171717"/>
<path d="M524.0,722.0 L529.4,716.8 L540.2,716.8 L545.6,722.0 L540.2,727.2 L529.4,727.2Z" fill="#171717"/>
<path d="M524.0,734.0 L529.4,728.8 L540.2,728.8 L545.6,734.0 L540.2,739.2 L529.4,739.2Z" fill="#171717"/>
<path d="M542.6,596.0 L548.0,590.8 L558.8,590.8 L564.2,596.0 L558.8,601.2 L548.0,601.2Z" fill="#171717"/>
<path d="M542.6,608.0 L548.0,602.8 L558.8,602.8 L564.2,608.0 L558.8,613.2 L548.0,613.2Z" fill="#171717"/>
<path d="M542.6,620.0 L548.0,614.8 L558.8,614.8 L564.2,620.0 L558.8,625.2 L548.0,625.2Z" fill="#171717"/>
<path d="M542.6,632.0 L548.0,626.8 L558.8,626.8 L564.2,632.0 L558.8,637.2 L548.0,637.2Z" fill="#171717"/>
<path d="M542.6,644.0 L548.0,638.8 L558.8,638.8 L564.2,644.0 L558.8,649.2 L548.0,649.2Z" fill="#171717"/>
<path d="M542.6,656.0 L548.0,650.8 L558.8,650.8 L564.2,656.0 L558.8,661.2 L548.0,661.2Z" fill="#171717"/>
<path d="M542.6,668.0 L548.0,662.8 L558.8,662.8 L564.2,668.0 L558.8,673.2 L548.0,673.2Z" fill="#171717"/>
<path d="M542.6,680.0 L548.0,674.8 L558.8,674.8 L564.2,680.0 L558.8,685.2 L548.0,685.2Z" fill="#171717"/>
<path d="M542.6,692.0 L548.0,686.8 L558.8,686.8 L564.2,692.0 L558.8,697.2 L548.0,697.2Z" fill="#171717"/>
<path d="M542.6,704.0 L548.0,698.8 L558.8,698.8 L564.2,704.0 L558.8,709.2 L548.0,709.2Z" fill="#171717"/>
<path d="M542.6,716.0 L548.0,710.8 L558.8,710.8 L564.2,716.0 L558.8,721.2 L548.0,721.2Z" fill="#171717"/>
<path d="M542.6,728.0 L548.0,722.8 L558.8,722.8 L564.2,728.0 L558.8,733.2 L548.0,733.2Z" fill="#171717"/>
<path d="M561.2,590.0 L566.6,584.8 L577.4,584.8 L582.8,590.0 L577.4,595.2 L566.6,595.2Z" fill="#171717"/>
<path d="M561.2,602.0 L566.6,596.8 L577.4,596.8 L582.8,602.0 L577.4,607.2 L566.6,607.2Z" fill="#171717"/>
<path d="M561.2,614.0 L566.6,608.8 L577.4,608.8 L582.8,614.0 L577.4,619.2 L566.6,619.2Z" fill="#171717"/>
<path d="M561.2,626.0 L566.6,620.8 L577.4,620.8 L582.8,626.0 L577.4,631.2 L566.6,631.2Z" fill="#171717"/>
<path d="M561.2,638.0 L566.6,632.8 L577.4,632.8 L582.8,638.0 L577.4,643.2 L566.6,643.2Z" fill="#171717"/>
<path d="M561.2,650.0 L566.6,644.8 L577.4,644.8 L582.8,650.0 L577.4,655.2 L566.6,655.2Z" fill="#171717"/>
<path d="M561.2,662.0 L566.6,656.8 L577.4,656.8 L582.8,662.0 L577.4,667.2 L566.6,667.2Z" fill="#171717"/>
<path d="M561.2,674.0 L566.6,668.8 L577.4,668.8 L582.8,674.0 L577.4,679.2 L566.6,679.2Z" fill="#171717"/>
<path d="M561.2,686.0 L566.6,680.8 L577.4,680.8 L582.8,686.0 L577.4,691.2 L566.6,691.2Z" fill="#171717"/>
<path d="M561.2,698.0 L566.6,692.8 L577.4,692.8 L582.8,698.0 L577.4,703.2 L566.6,703.2Z" fill="#171717"/>
<path d="M561.2,710.0 L566.6,704.8 L577.4,704.8 L582.8,710.0 L577.4,715.2 L566.6,715.2Z" fill="#171717"/>
<path d="M561.2,722.0 L566.6,716.8 L577.4,716.8 L582.8,722.0 L577.4,727.2 L566.6,727.2Z" fill="#171717"/>
<path d="M561.2,734.0 L566.6,728.8 L577.4,728.8 L582.8,734.0 L577.4,739.2 L566.6,739.2Z" fill="#171717"/>
<path d="M189.2,590.0 L194.6,584.8 L205.4,584.8 L210.8,590.0 M189.2,602.0 L194.6,596.8 L205.4,596.8 L210.8,602.0 M189.2,614.0 L194.6,608.8 L205.4,608.8 L210.8,614.0 M189.2,626.0 L194.6,620.8 L205.4,620.8 L210.8,626.0 M189.2,638.0 L194.6,632.8 L205.4,632.8 L210.8,638.0 M189.2,650.0 L194.6,644.8 L205.4,644.8 L210.8,650.0 M189.2,662.0 L194.6,656.8 L205.4,656.8 L210.8,662.0 M189.2,674.0 L194.6,668.8 L205.4,668.8 L210.8,674.0 M189.2,686.0 L194.6,680.8 L205.4,680.8 L210.8,686.0 M189.2,698.0 L194.6,692.8 L205.4,692.8 L210.8,698.0 M189.2,710.0 L194.6,704.8 L205.4,704.8 L210.8,710.0 M189.2,722.0 L194.6,716.8 L205.4,716.8 L210.8,722.0 M189.2,734.0 L194.6,728.8 L205.4,728.8 L210.8,734.0 M207.8,596.0 L213.2,590.8 L224.0,590.8 L229.4,596.0 M207.8,608.0 L213.2,602.8 L224.0,602.8 L229.4,608.0 M207.8,620.0 L213.2,614.8 L224.0,614.8 L229.4,620.0 M207.8,632.0 L213.2,626.8 L224.0,626.8 L229.4,632.0 M207.8,644.0 L213.2,638.8 L224.0,638.8 L229.4,644.0 M207.8,656.0 L213.2,650.8 L224.0,650.8 L229.4,656.0 M207.8,668.0 L213.2,662.8 L224.0,662.8 L229.4,668.0 M207.8,680.0 L213.2,674.8 L224.0,674.8 L229.4,680.0 M207.8,692.0 L213.2,686.8 L224.0,686.8 L229.4,692.0 M207.8,704.0 L213.2,698.8 L224.0,698.8 L229.4,704.0 M207.8,716.0 L213.2,710.8 L224.0,710.8 L229.4,716.0 M207.8,728.0 L213.2,722.8 L224.0,722.8 L229.4,728.0 M226.4,590.0 L231.8,584.8 L242.6,584.8 L248.0,590.0 M226.4,602.0 L231.8,596.8 L242.6,596.8 L248.0,602.0 M226.4,614.0 L231.8,608.8 L242.6,608.8 L248.0,614.0 M226.4,626.0 L231.8,620.8 L242.6,620.8 L248.0,626.0 M226.4,638.0 L231.8,632.8 L242.6,632.8 L248.0,638.0 M226.4,650.0 L231.8,644.8 L242.6,644.8 L248.0,650.0 M226.4,662.0 L231.8,656.8 L242.6,656.8 L248.0,662.0 M226.4,674.0 L231.8,668.8 L242.6,668.8 L248.0,674.0 M226.4,686.0 L231.8,680.8 L242.6,680.8 L248.0,686.0 M226.4,698.0 L231.8,692.8 L242.6,692.8 L248.0,698.0 M226.4,710.0 L231.8,704.8 L242.6,704.8 L248.0,710.0 M226.4,722.0 L231.8,716.8 L242.6,716.8 L248.0,722.0 M226.4,734.0 L231.8,728.8 L242.6,728.8 L248.0,734.0 M245.0,596.0 L250.4,590.8 L261.2,590.8 L266.6,596.0 M245.0,608.0 L250.4,602.8 L261.2,602.8 L266.6,608.0 M245.0,620.0 L250.4,614.8 L261.2,614.8 L266.6,620.0 M245.0,632.0 L250.4,626.8 L261.2,626.8 L266.6,632.0 M245.0,644.0 L250.4,638.8 L261.2,638.8 L266.6,644.0 M245.0,656.0 L250.4,650.8 L261.2,650.8 L266.6,656.0 M245.0,668.0 L250.4,662.8 L261.2,662.8 L266.6,668.0 M245.0,680.0 L250.4,674.8 L261.2,674.8 L266.6,680.0 M245.0,692.0 L250.4,686.8 L261.2,686.8 L266.6,692.0 M245.0,704.0 L250.4,698.8 L261.2,698.8 L266.6,704.0 M245.0,716.0 L250.4,710.8 L261.2,710.8 L266.6,716.0 M245.0,728.0 L250.4,722.8 L261.2,722.8 L266.6,728.0 M263.6,590.0 L269.0,584.8 L279.8,584.8 L285.2,590.0 M263.6,602.0 L269.0,596.8 L279.8,596.8 L285.2,602.0 M263.6,614.0 L269.0,608.8 L279.8,608.8 L285.2,614.0 M263.6,626.0 L269.0,620.8 L279.8,620.8 L285.2,626.0 M263.6,638.0 L269.0,632.8 L279.8,632.8 L285.2,638.0 M263.6,650.0 L269.0,644.8 L279.8,644.8 L285.2,650.0 M263.6,662.0 L269.0,656.8 L279.8,656.8 L285.2,662.0 M263.6,674.0 L269.0,668.8 L279.8,668.8 L285.2,674.0 M263.6,686.0 L269.0,680.8 L279.8,680.8 L285.2,686.0 M263.6,698.0 L269.0,692.8 L279.8,692.8 L285.2,698.0 M263.6,710.0 L269.0,704.8 L279.8,704.8 L285.2,710.0 M263.6,722.0 L269.0,716.8 L279.8,716.8 L285.2,722.0 M263.6,734.0 L269.0,728.8 L279.8,728.8 L285.2,734.0 M282.2,596.0 L287.6,590.8 L298.4,590.8 L303.8,596.0 M282.2,608.0 L287.6,602.8 L298.4,602.8 L303.8,608.0 M282.2,620.0 L287.6,614.8 L298.4,614.8 L303.8,620.0 M282.2,632.0 L287.6,626.8 L298.4,626.8 L303.8,632.0 M282.2,644.0 L287.6,638.8 L298.4,638.8 L303.8,644.0 M282.2,656.0 L287.6,650.8 L298.4,650.8 L303.8,656.0 M282.2,668.0 L287.6,662.8 L298.4,662.8 L303.8,668.0 M282.2,680.0 L287.6,674.8 L298.4,674.8 L303.8,680.0 M282.2,692.0 L287.6,686.8 L298.4,686.8 L303.8,692.0 M282.2,704.0 L287.6,698.8 L298.4,698.8 L303.8,704.0 M282.2,716.0 L287.6,710.8 L298.4,710.8 L303.8,716.0 M282.2,728.0 L287.6,722.8 L298.4,722.8 L303.8,728.0 M300.8,590.0 L306.2,584.8 L317.0,584.8 L322.4,590.0 M300.8,602.0 L306.2,596.8 L317.0,596.8 L322.4,602.0 M300.8,614.0 L306.2,608.8 L317.0,608.8 L322.4,614.0 M300.8,626.0 L306.2,620.8 L317.0,620.8 L322.4,626.0 M300.8,638.0 L306.2,632.8 L317.0,632.8 L322.4,638.0 M300.8,650.0 L306.2,644.8 L317.0,644.8 L322.4,650.0 M300.8,662.0 L306.2,656.8 L317.0,656.8 L322.4,662.0 M300.8,674.0 L306.2,668.8 L317.0,668.8 L322.4,674.0 M300.8,686.0 L306.2,680.8 L317.0,680.8 L322.4,686.0 M300.8,698.0 L306.2,692.8 L317.0,692.8 L322.4,698.0 M300.8,710.0 L306.2,704.8 L317.0,704.8 L322.4,710.0 M300.8,722.0 L306.2,716.8 L317.0,716.8 L322.4,722.0 M300.8,734.0 L306.2,728.8 L317.0,728.8 L322.4,734.0 M319.4,596.0 L324.8,590.8 L335.6,590.8 L341.0,596.0 M319.4,608.0 L324.8,602.8 L335.6,602.8 L341.0,608.0 M319.4,620.0 L324.8,614.8 L335.6,614.8 L341.0,620.0 M319.4,632.0 L324.8,626.8 L335.6,626.8 L341.0,632.0 M319.4,644.0 L324.8,638.8 L335.6,638.8 L341.0,644.0 M319.4,656.0 L324.8,650.8 L335.6,650.8 L341.0,656.0 M319.4,668.0 L324.8,662.8 L335.6,662.8 L341.0,668.0 M319.4,680.0 L324.8,674.8 L335.6,674.8 L341.0,680.0 M319.4,692.0 L324.8,686.8 L335.6,686.8 L341.0,692.0 M319.4,704.0 L324.8,698.8 L335.6,698.8 L341.0,704.0 M319.4,716.0 L324.8,710.8 L335.6,710.8 L341.0,716.0 M319.4,728.0 L324.8,722.8 L335.6,722.8 L341.0,728.0 M338.0,590.0 L343.4,584.8 L354.2,584.8 L359.6,590.0 M338.0,602.0 L343.4,596.8 L354.2,596.8 L359.6,602.0 M338.0,614.0 L343.4,608.8 L354.2,608.8 L359.6,614.0 M338.0,626.0 L343.4,620.8 L354.2,620.8 L359.6,626.0 M338.0,638.0 L343.4,632.8 L354.2,632.8 L359.6,638.0 M338.0,650.0 L343.4,644.8 L354.2,644.8 L359.6,650.0 M338.0,662.0 L343.4,656.8 L354.2,656.8 L359.6,662.0 M338.0,674.0 L343.4,668.8 L354.2,668.8 L359.6,674.0 M338.0,686.0 L343.4,680.8 L354.2,680.8 L359.6,686.0 M338.0,698.0 L343.4,692.8 L354.2,692.8 L359.6,698.0 M338.0,710.0 L343.4,704.8 L354.2,704.8 L359.6,710.0 M338.0,722.0 L343.4,716.8 L354.2,716.8 L359.6,722.0 M338.0,734.0 L343.4,728.8 L354.2,728.8 L359.6,734.0 M356.6,596.0 L362.0,590.8 L372.8,590.8 L378.2,596.0 M356.6,608.0 L362.0,602.8 L372.8,602.8 L378.2,608.0 M356.6,620.0 L362.0,614.8 L372.8,614.8 L378.2,620.0 M356.6,632.0 L362.0,626.8 L372.8,626.8 L378.2,632.0 M356.6,644.0 L362.0,638.8 L372.8,638.8 L378.2,644.0 M356.6,656.0 L362.0,650.8 L372.8,650.8 L378.2,656.0 M356.6,668.0 L362.0,662.8 L372.8,662.8 L378.2,668.0 M356.6,680.0 L362.0,674.8 L372.8,674.8 L378.2,680.0 M356.6,692.0 L362.0,686.8 L372.8,686.8 L378.2,692.0 M356.6,704.0 L362.0,698.8 L372.8,698.8 L378.2,704.0 M356.6,716.0 L362.0,710.8 L372.8,710.8 L378.2,716.0 M356.6,728.0 L362.0,722.8 L372.8,722.8 L378.2,728.0 M375.2,590.0 L380.6,584.8 L391.4,584.8 L396.8,590.0 M375.2,602.0 L380.6,596.8 L391.4,596.8 L396.8,602.0 M375.2,614.0 L380.6,608.8 L391.4,608.8 L396.8,614.0 M375.2,626.0 L380.6,620.8 L391.4,620.8 L396.8,626.0 M375.2,638.0 L380.6,632.8 L391.4,632.8 L396.8,638.0 M375.2,650.0 L380.6,644.8 L391.4,644.8 L396.8,650.0 M375.2,662.0 L380.6,656.8 L391.4,656.8 L396.8,662.0 M375.2,674.0 L380.6,668.8 L391.4,668.8 L396.8,674.0 M375.2,686.0 L380.6,680.8 L391.4,680.8 L396.8,686.0 M375.2,698.0 L380.6,692.8 L391.4,692.8 L396.8,698.0 M375.2,710.0 L380.6,704.8 L391.4,704.8 L396.8,710.0 M375.2,722.0 L380.6,716.8 L391.4,716.8 L396.8,722.0 M375.2,734.0 L380.6,728.8 L391.4,728.8 L396.8,734.0 M393.8,596.0 L399.2,590.8 L410.0,590.8 L415.4,596.0 M393.8,608.0 L399.2,602.8 L410.0,602.8 L415.4,608.0 M393.8,620.0 L399.2,614.8 L410.0,614.8 L415.4,620.0 M393.8,632.0 L399.2,626.8 L410.0,626.8 L415.4,632.0 M393.8,644.0 L399.2,638.8 L410.0,638.8 L415.4,644.0 M393.8,656.0 L399.2,650.8 L410.0,650.8 L415.4,656.0 M393.8,668.0 L399.2,662.8 L410.0,662.8 L415.4,668.0 M393.8,680.0 L399.2,674.8 L410.0,674.8 L415.4,680.0 M393.8,692.0 L399.2,686.8 L410.0,686.8 L415.4,692.0 M393.8,704.0 L399.2,698.8 L410.0,698.8 L415.4,704.0 M393.8,716.0 L399.2,710.8 L410.0,710.8 L415.4,716.0 M393.8,728.0 L399.2,722.8 L410.0,722.8 L415.4,728.0 M412.4,590.0 L417.8,584.8 L428.6,584.8 L434.0,590.0 M412.4,602.0 L417.8,596.8 L428.6,596.8 L434.0,602.0 M412.4,614.0 L417.8,608.8 L428.6,608.8 L434.0,614.0 M412.4,626.0 L417.8,620.8 L428.6,620.8 L434.0,626.0 M412.4,638.0 L417.8,632.8 L428.6,632.8 L434.0,638.0 M412.4,650.0 L417.8,644.8 L428.6,644.8 L434.0,650.0 M412.4,662.0 L417.8,656.8 L428.6,656.8 L434.0,662.0 M412.4,674.0 L417.8,668.8 L428.6,668.8 L434.0,674.0 M412.4,686.0 L417.8,680.8 L428.6,680.8 L434.0,686.0 M412.4,698.0 L417.8,692.8 L428.6,692.8 L434.0,698.0 M412.4,710.0 L417.8,704.8 L428.6,704.8 L434.0,710.0 M412.4,722.0 L417.8,716.8 L428.6,716.8 L434.0,722.0 M412.4,734.0 L417.8,728.8 L428.6,728.8 L434.0,734.0 M431.0,596.0 L436.4,590.8 L447.2,590.8 L452.6,596.0 M431.0,608.0 L436.4,602.8 L447.2,602.8 L452.6,608.0 M431.0,620.0 L436.4,614.8 L447.2,614.8 L452.6,620.0 M431.0,632.0 L436.4,626.8 L447.2,626.8 L452.6,632.0 M431.0,644.0 L436.4,638.8 L447.2,638.8 L452.6,644.0 M431.0,656.0 L436.4,650.8 L447.2,650.8 L452.6,656.0 M431.0,668.0 L436.4,662.8 L447.2,662.8 L452.6,668.0 M431.0,680.0 L436.4,674.8 L447.2,674.8 L452.6,680.0 M431.0,692.0 L436.4,686.8 L447.2,686.8 L452.6,692.0 M431.0,704.0 L436.4,698.8 L447.2,698.8 L452.6,704.0 M431.0,716.0 L436.4,710.8 L447.2,710.8 L452.6,716.0 M431.0,728.0 L436.4,722.8 L447.2,722.8 L452.6,728.0 M449.6,590.0 L455.0,584.8 L465.8,584.8 L471.2,590.0 M449.6,602.0 L455.0,596.8 L465.8,596.8 L471.2,602.0 M449.6,614.0 L455.0,608.8 L465.8,608.8 L471.2,614.0 M449.6,626.0 L455.0,620.8 L465.8,620.8 L471.2,626.0 M449.6,638.0 L455.0,632.8 L465.8,632.8 L471.2,638.0 M449.6,650.0 L455.0,644.8 L465.8,644.8 L471.2,650.0 M449.6,662.0 L455.0,656.8 L465.8,656.8 L471.2,662.0 M449.6,674.0 L455.0,668.8 L465.8,668.8 L471.2,674.0 M449.6,686.0 L455.0,680.8 L465.8,680.8 L471.2,686.0 M449.6,698.0 L455.0,692.8 L465.8,692.8 L471.2,698.0 M449.6,710.0 L455.0,704.8 L465.8,704.8 L471.2,710.0 M449.6,722.0 L455.0,716.8 L465.8,716.8 L471.2,722.0 M449.6,734.0 L455.0,728.8 L465.8,728.8 L471.2,734.0 M468.2,596.0 L473.6,590.8 L484.4,590.8 L489.8,596.0 M468.2,608.0 L473.6,602.8 L484.4,602.8 L489.8,608.0 M468.2,620.0 L473.6,614.8 L484.4,614.8 L489.8,620.0 M468.2,632.0 L473.6,626.8 L484.4,626.8 L489.8,632.0 M468.2,644.0 L473.6,638.8 L484.4,638.8 L489.8,644.0 M468.2,656.0 L473.6,650.8 L484.4,650.8 L489.8,656.0 M468.2,668.0 L473.6,662.8 L484.4,662.8 L489.8,668.0 M468.2,680.0 L473.6,674.8 L484.4,674.8 L489.8,680.0 M468.2,692.0 L473.6,686.8 L484.4,686.8 L489.8,692.0 M468.2,704.0 L473.6,698.8 L484.4,698.8 L489.8,704.0 M468.2,716.0 L473.6,710.8 L484.4,710.8 L489.8,716.0 M468.2,728.0 L473.6,722.8 L484.4,722.8 L489.8,728.0 M486.8,590.0 L492.2,584.8 L503.0,584.8 L508.4,590.0 M486.8,602.0 L492.2,596.8 L503.0,596.8 L508.4,602.0 M486.8,614.0 L492.2,608.8 L503.0,608.8 L508.4,614.0 M486.8,626.0 L492.2,620.8 L503.0,620.8 L508.4,626.0 M486.8,638.0 L492.2,632.8 L503.0,632.8 L508.4,638.0 M486.8,650.0 L492.2,644.8 L503.0,644.8 L508.4,650.0 M486.8,662.0 L492.2,656.8 L503.0,656.8 L508.4,662.0 M486.8,674.0 L492.2,668.8 L503.0,668.8 L508.4,674.0 M486.8,686.0 L492.2,680.8 L503.0,680.8 L508.4,686.0 M486.8,698.0 L492.2,692.8 L503.0,692.8 L508.4,698.0 M486.8,710.0 L492.2,704.8 L503.0,704.8 L508.4,710.0 M486.8,722.0 L492.2,716.8 L503.0,716.8 L508.4,722.0 M486.8,734.0 L492.2,728.8 L503.0,728.8 L508.4,734.0 M505.4,596.0 L510.8,590.8 L521.6,590.8 L527.0,596.0 M505.4,608.0 L510.8,602.8 L521.6,602.8 L527.0,608.0 M505.4,620.0 L510.8,614.8 L521.6,614.8 L527.0,620.0 M505.4,632.0 L510.8,626.8 L521.6,626.8 L527.0,632.0 M505.4,644.0 L510.8,638.8 L521.6,638.8 L527.0,644.0 M505.4,656.0 L510.8,650.8 L521.6,650.8 L527.0,656.0 M505.4,668.0 L510.8,662.8 L521.6,662.8 L527.0,668.0 M505.4,680.0 L510.8,674.8 L521.6,674.8 L527.0,680.0 M505.4,692.0 L510.8,686.8 L521.6,686.8 L527.0,692.0 M505.4,704.0 L510.8,698.8 L521.6,698.8 L527.0,704.0 M505.4,716.0 L510.8,710.8 L521.6,710.8 L527.0,716.0 M505.4,728.0 L510.8,722.8 L521.6,722.8 L527.0,728.0 M524.0,590.0 L529.4,584.8 L540.2,584.8 L545.6,590.0 M524.0,602.0 L529.4,596.8 L540.2,596.8 L545.6,602.0 M524.0,614.0 L529.4,608.8 L540.2,608.8 L545.6,614.0 M524.0,626.0 L529.4,620.8 L540.2,620.8 L545.6,626.0 M524.0,638.0 L529.4,632.8 L540.2,632.8 L545.6,638.0 M524.0,650.0 L529.4,644.8 L540.2,644.8 L545.6,650.0 M524.0,662.0 L529.4,656.8 L540.2,656.8 L545.6,662.0 M524.0,674.0 L529.4,668.8 L540.2,668.8 L545.6,674.0 M524.0,686.0 L529.4,680.8 L540.2,680.8 L545.6,686.0 M524.0,698.0 L529.4,692.8 L540.2,692.8 L545.6,698.0 M524.0,710.0 L529.4,704.8 L540.2,704.8 L545.6,710.0 M524.0,722.0 L529.4,716.8 L540.2,716.8 L545.6,722.0 M524.0,734.0 L529.4,728.8 L540.2,728.8 L545.6,734.0 M542.6,596.0 L548.0,590.8 L558.8,590.8 L564.2,596.0 M542.6,608.0 L548.0,602.8 L558.8,602.8 L564.2,608.0 M542.6,620.0 L548.0,614.8 L558.8,614.8 L564.2,620.0 M542.6,632.0 L548.0,626.8 L558.8,626.8 L564.2,632.0 M542.6,644.0 L548.0,638.8 L558.8,638.8 L564.2,644.0 M542.6,656.0 L548.0,650.8 L558.8,650.8 L564.2,656.0 M542.6,668.0 L548.0,662.8 L558.8,662.8 L564.2,668.0 M542.6,680.0 L548.0,674.8 L558.8,674.8 L564.2,680.0 M542.6,692.0 L548.0,686.8 L558.8,686.8 L564.2,692.0 M542.6,704.0 L548.0,698.8 L558.8,698.8 L564.2,704.0 M542.6,716.0 L548.0,710.8 L558.8,710.8 L564.2,716.0 M542.6,728.0 L548.0,722.8 L558.8,722.8 L564.2,728.0 M561.2,590.0 L566.6,584.8 L577.4,584.8 L582.8,590.0 M561.2,602.0 L566.6,596.8 L577.4,596.8 L582.8,602.0 M561.2,614.0 L566.6,608.8 L577.4,608.8 L582.8,614.0 M561.2,626.0 L566.6,620.8 L577.4,620.8 L582.8,626.0 M561.2,638.0 L566.6,632.8 L577.4,632.8 L582.8,638.0 M561.2,650.0 L566.6,644.8 L577.4,644.8 L582.8,650.0 M561.2,662.0 L566.6,656.8 L577.4,656.8 L582.8,662.0 M561.2,674.0 L566.6,668.8 L577.4,668.8 L582.8,674.0 M561.2,686.0 L566.6,680.8 L577.4,680.8 L582.8,686.0 M561.2,698.0 L566.6,692.8 L577.4,692.8 L582.8,698.0 M561.2,710.0 L566.6,704.8 L577.4,704.8 L582.8,710.0 M561.2,722.0 L566.6,716.8 L577.4,716.8 L582.8,722.0 M561.2,734.0 L566.6,728.8 L577.4,728.8 L582.8,734.0" stroke="#5a5a5a" stroke-width=".8" fill="none" opacity=".7"/>
</g>
<path d="M266.7,644.5 Q266.5,641.5 269.3,642.6 L404.0,694.0 L404.0,711.0 L270.8,660.6 Q268.0,659.5 267.8,656.5 Z" fill="#494949"/>
<path d="M300.0,654.3 L404.0,694.0 L404.0,711.0 L300.0,672.0Z" fill="url(#stripg)"/>
<circle cx="277.3" cy="653.5" r="1.8" fill="#d0d0d0"/>
<path d="M404.0,692.0 L513.0,649.5 L513.0,664.0 L404.0,711.0Z" fill="#2b2b2b"/>
<path d="M404.0,692.5 L513.0,650.0" stroke="#444" stroke-width="1" fill="none"/>
<path d="M466.0,643.0 L476.0,640.5 L512.0,659.0 L512.0,666.0 L500.0,669.0Z" fill="#2d2d2d"/>
<ellipse cx="215.5" cy="658.5" rx="5.4" ry="3.0" fill="#151515"/>
<ellipse cx="215.5" cy="657.0" rx="4.2" ry="2.3" fill="#4a4a4a"/>
<ellipse cx="215.5" cy="657.0" rx="2.1" ry="1.2" fill="#101010"/>
<ellipse cx="391.0" cy="722.5" rx="5.4" ry="3.0" fill="#151515"/>
<ellipse cx="391.0" cy="721.0" rx="4.2" ry="2.3" fill="#4a4a4a"/>
<ellipse cx="391.0" cy="721.0" rx="2.1" ry="1.2" fill="#101010"/>
<ellipse cx="280.0" cy="681.5" rx="6.7" ry="3.7" fill="#151515"/>
<ellipse cx="280.0" cy="680.0" rx="5.5" ry="3.0" fill="#4a4a4a"/>
<ellipse cx="280.0" cy="680.0" rx="2.8" ry="1.5" fill="#101010"/>
<ellipse cx="330.0" cy="700.5" rx="6.7" ry="3.7" fill="#151515"/>
<ellipse cx="330.0" cy="699.0" rx="5.5" ry="3.0" fill="#4a4a4a"/>
<ellipse cx="330.0" cy="699.0" rx="2.8" ry="1.5" fill="#101010"/>
<ellipse cx="279.5" cy="633.0" rx="5.7" ry="3.1" fill="#151515"/>
<ellipse cx="279.5" cy="631.5" rx="4.5" ry="2.5" fill="#4a4a4a"/>
<ellipse cx="279.5" cy="631.5" rx="2.2" ry="1.3" fill="#101010"/>
<ellipse cx="397.0" cy="712.5" rx="6.2" ry="3.4" fill="#151515"/>
<ellipse cx="397.0" cy="711.0" rx="5.0" ry="2.8" fill="#4a4a4a"/>
<ellipse cx="397.0" cy="711.0" rx="2.5" ry="1.4" fill="#101010"/>
<ellipse cx="534.0" cy="664.0" rx="7.7" ry="4.2" fill="#151515"/>
<ellipse cx="534.0" cy="662.5" rx="6.5" ry="3.6" fill="#4a4a4a"/>
<ellipse cx="534.0" cy="662.5" rx="3.2" ry="1.8" fill="#101010"/>
<path d="M552,641 q0,-3 7.5,-3 q7.5,0 7.5,3 l0,20 q0,3 -7.5,3 q-7.5,0 -7.5,-3Z" fill="#1c1c1c"/>
<rect x="554" y="642" width="3" height="19" fill="#3a3a3a"/>
<path d="M275.5,633 l0,9.5 q4,3 8,0 l0,-9.5Z" fill="#1a1a1a"/>
</g>
<g id="hdd">
<path d="M416.0,659.0 L520.5,618.0 L512.5,629.0 L418.0,666.0Z" fill="#3a3a3a"/>
<path d="M410.0,658.3 L433.0,651.0 L433.0,655.0 L411.5,662.0Z" fill="#b4b4b4"/>
<path d="M266.0,595.0 Q266.0,594.0 266.9,594.4 L413.0,651.0 L412.5,661.0 Q412.5,662.0 411.6,661.7 L267.9,610.7 Q266.0,610.0 266.0,608.0 Z" fill="url(#hddfl)"/>
<path d="M413.0,651.0 L520.1,610.9 Q521.0,610.5 521.0,611.5 L521.0,617.8 Q521.0,618.8 520.1,619.2 L412.8,660.5 Z" fill="#626262"/>
<path d="M267.9,594.7 Q266.0,594.0 267.9,593.3 L350.0,563.0 L519.1,610.0 Q521.0,610.5 519.1,611.2 L413.9,650.6 Q413.0,651.0 412.1,650.6 Z" fill="url(#hddtop)"/>
<path d="M267.0,594.6 L413.0,651.5" stroke="#d4d4d4" stroke-width="1.3" fill="none"/>
<path d="M413.0,651.5 L520.5,611.2" stroke="#9a9a9a" stroke-width="1" fill="none"/>
<path d="M272.0,590.5 L345.0,563.5 L348.0,565.0 L275.0,592.0Z" fill="#c8c8c8"/>
<rect x="286.0" y="581.9" width="1.6" height="2.6" fill="#f4f4f4"/>
<rect x="291.2" y="580.0" width="1.6" height="2.6" fill="#f4f4f4"/>
<rect x="296.4" y="578.1" width="1.6" height="2.6" fill="#f4f4f4"/>
<rect x="301.6" y="576.1" width="1.6" height="2.6" fill="#f4f4f4"/>
<rect x="306.8" y="574.2" width="1.6" height="2.6" fill="#f4f4f4"/>
<rect x="312.0" y="572.3" width="1.6" height="2.6" fill="#f4f4f4"/>
<rect x="317.2" y="570.4" width="1.6" height="2.6" fill="#f4f4f4"/>
<rect x="322.4" y="568.5" width="1.6" height="2.6" fill="#f4f4f4"/>
<rect x="327.6" y="566.5" width="1.6" height="2.6" fill="#f4f4f4"/>
<rect x="332.8" y="564.6" width="1.6" height="2.6" fill="#f4f4f4"/>
<circle cx="273.5" cy="604.5" r="2" fill="#2e2e2e"/><circle cx="273.5" cy="604.5" r="2.8" fill="none" stroke="#b8b8b8" stroke-width=".7"/>
<circle cx="398.0" cy="654.0" r="2" fill="#2e2e2e"/><circle cx="398.0" cy="654.0" r="2.8" fill="none" stroke="#b8b8b8" stroke-width=".7"/>
</g>
<g id="ram">
<path d="M343.0,553.0 L453.0,514.5 L496.5,531.0 L389.5,569.6Z" fill="#060606" transform="translate(0,2.6)"/>
<path d="M393.0,568.5 L496.5,531.0 L496.5,528.8 L393.0,566.0Z" fill="#8c6d2c" transform="translate(0,2.4)"/>
<path d="M343.0,553.0 L453.0,514.5 L496.5,531.0 L389.5,569.6Z" fill="#0f0f0f"/>
<path d="M391.5,569.0 L495.5,531.3 L492.5,530.2 L388.5,567.8Z" fill="#9a7a34"/>
<path d="M444.5,550.5 L448.0,549.2 L448.0,553.0 L444.5,554.2Z" fill="#0f0f0f"/>
<path d="M360.2,552.9 L380.0,546.0 L401.4,553.6 L381.6,560.5Z" fill="#1c1c1c" stroke="#2c2c2c" stroke-width=".6"/>
<path d="M385.5,544.1 L405.3,537.1 L426.7,544.8 L406.9,551.7Z" fill="#1c1c1c" stroke="#2c2c2c" stroke-width=".6"/>
<path d="M413.0,534.4 L432.8,527.5 L454.2,535.1 L434.4,542.1Z" fill="#1c1c1c" stroke="#2c2c2c" stroke-width=".6"/>
<path d="M438.3,525.6 L457.0,519.0 L478.4,526.7 L459.7,533.2Z" fill="#1c1c1c" stroke="#2c2c2c" stroke-width=".6"/>
<circle cx="387.0" cy="542.2" r=".75" fill="#999"/>
<circle cx="417.7" cy="529.5" r=".75" fill="#bbb"/>
<circle cx="373.1" cy="545.1" r=".75" fill="#999"/>
<circle cx="396.7" cy="538.8" r=".75" fill="#ddd"/>
<circle cx="407.5" cy="533.1" r=".75" fill="#bbb"/>
<circle cx="366.6" cy="549.4" r=".75" fill="#bbb"/>
<circle cx="415.3" cy="530.3" r=".75" fill="#bbb"/>
<circle cx="411.0" cy="531.8" r=".75" fill="#ddd"/>
<circle cx="358.7" cy="552.1" r=".75" fill="#999"/>
<circle cx="396.7" cy="560.5" r=".75" fill="#bbb"/>
<circle cx="437.4" cy="524.6" r=".75" fill="#ddd"/>
<circle cx="413.4" cy="533.0" r=".75" fill="#999"/>
<circle cx="361.1" cy="549.3" r=".75" fill="#bbb"/>
<circle cx="360.0" cy="551.6" r=".75" fill="#999"/>
<circle cx="457.0" cy="541.4" r=".75" fill="#999"/>
<circle cx="435.0" cy="549.1" r=".75" fill="#999"/>
<circle cx="384.6" cy="543.1" r=".75" fill="#bbb"/>
<circle cx="430.9" cy="524.9" r=".75" fill="#bbb"/>
<circle cx="418.1" cy="555.0" r=".75" fill="#999"/>
<circle cx="459.2" cy="538.6" r=".75" fill="#bbb"/>
<circle cx="451.4" cy="517.7" r=".75" fill="#bbb"/>
<circle cx="427.4" cy="549.8" r=".75" fill="#ddd"/>
<circle cx="482.9" cy="532.3" r=".75" fill="#ddd"/>
<path d="M448.2,539.2 L467.9,532.3 L475.4,534.9 L455.6,541.9Z" fill="#bdbdbd"/>
</g>
<g id="ssd">
<path d="M248.5,553.0 L279.5,565.2 L290.0,561.3 L259.0,549.2Z" fill="#c9c2a0" transform="translate(0,2)"/>
<path d="M284.0,563.5 L330.0,546.2 L330.0,544.0 L284.0,561.0Z" fill="#e9e9e9" transform="translate(0,1.6)"/>
<path d="M248.5,553.0 L279.5,565.2 L361.0,534.6 L329.0,523.0Z" fill="#101010"/>
<path d="M248.5,553.0 L279.5,565.2 L283.0,563.9 L252.0,551.7Z" fill="#ddd5ae"/>
<path d="M252.0,551.7 L283.0,563.9 L292.0,560.5 L261.0,548.3Z" fill="#6f6f6f"/>
<path d="M256.0,550.2 L280.0,559.6 L286.0,557.4 L262.0,548.0Z" fill="#2a2a2a"/>
<path d="M263.5,548.5 L287.0,559.5 L311.0,550.8 L310.0,549.6 L287.0,557.6 L265.5,547.6Z" fill="#efefef"/>
<text transform="matrix(-0.95,0.2,-0.3,-0.72,299.8,539.5)" font-family="Liberation Sans, sans-serif" font-weight="700" font-size="13" fill="#f2f2f2">1TB</text>
<path d="M318.0,541.0 L350.0,529.0 L356.0,531.3 L324.0,543.4Z" fill="#1f1f1f"/>
<rect x="333.0" y="541.5" width="2.4" height="1.6" fill="#8a6a3a"/>
<rect x="340.0" y="538.8" width="2.4" height="1.6" fill="#8a6a3a"/>
<rect x="347.0" y="536.2" width="2.4" height="1.6" fill="#8a6a3a"/>
</g>
<g id="mb">
<path d="M224.0,466.0 L255.0,476.0 L255.0,480.0 L247.0,483.0 L226.0,475.5Z" fill="#303030"/>
<path d="M247.0,482.0 L254.0,479.4 L254.0,489.0 L247.0,491.8Z" fill="#a8a8a8"/>
<path d="M226.0,474.5 L247.0,482.0 L247.0,491.7 L226.0,486.5Z" fill="#2c5cc0"/>
<path d="M226.0,474.5 L247.0,482.0 L247.0,484.0 L226.0,476.5Z" fill="#4d7ad6"/>
<path d="M228.0,480.6 L245.0,486.6 L245.0,489.5 L228.0,484.5Z" fill="#1b3f96"/>
<path d="M231.0,476.4 L234.5,477.6 L234.5,479.4 L231.0,478.2Z" fill="#c3d0ee"/>
<path d="M239.0,479.2 L242.5,480.4 L242.5,482.2 L239.0,481.0Z" fill="#c3d0ee"/>
<path d="M256.0,478.0 L294.0,490.5 L294.0,493.0 L279.0,496.0 L258.0,488.0Z" fill="#303030"/>
<path d="M279.0,494.0 L294.0,489.5 L294.0,499.0 L279.0,505.0Z" fill="url(#usbm)"/>
<path d="M258.3,486.5 L279.0,494.0 L279.0,504.6 L258.3,498.5Z" fill="#2c5cc0"/>
<path d="M258.3,486.5 L279.0,494.0 L279.0,496.0 L258.3,488.5Z" fill="#4d7ad6"/>
<path d="M260.0,492.6 L277.0,498.6 L277.0,501.5 L260.0,496.5Z" fill="#1b3f96"/>
<path d="M263.0,488.6 L266.5,489.8 L266.5,491.6 L263.0,490.4Z" fill="#c3d0ee"/>
<path d="M271.0,491.4 L274.5,492.6 L274.5,494.4 L271.0,493.2Z" fill="#c3d0ee"/>
<path d="M294.5,500.0 Q294.5,498.0 296.4,498.6 L310.1,503.4 Q312.0,504.0 312.0,506.0 L312.0,509.0 Q312.0,511.0 310.1,510.4 L296.4,506.1 Q294.5,505.5 294.5,503.5 Z" fill="#161616"/>
<path d="M312.0,504.0 L318.0,502.5 L318.0,508.5 L312.0,511.0Z" fill="#8a8a8a"/>
<path d="M322.0,509.5 Q322.0,506.5 324.9,507.4 L335.1,510.6 Q338.0,511.5 338.0,514.5 L338.0,517.0 Q338.0,520.0 335.1,519.2 L324.9,516.3 Q322.0,515.5 322.0,512.5 Z" fill="#1b1b1b"/>
<ellipse cx="327" cy="512.5" rx="2.6" ry="3.4" fill="#555"/>
<circle cx="347.5" cy="523" r="9.6" fill="#6a6a6a"/><circle cx="347.5" cy="523" r="8" fill="#2b2b2b"/><circle cx="347.5" cy="523.4" r="4.2" fill="none" stroke="#777" stroke-width=".9"/><path d="M347.5,518 v4" stroke="#777" stroke-width=".9"/>
<path d="M356.0,518.0 L403.0,529.0 L403.0,523.0 L356.0,510.0Z" fill="#2a2a2a"/>
<path d="M358.0,521.0 L362.0,522.4 L362.0,526.0 L358.0,524.6Z" fill="#777"/>
<path d="M520.0,478.0 L562.0,463.5 L562.0,470.0 L532.0,482.0 L520.0,482.0Z" fill="#b4b4b4"/>
<path d="M520.0,480.0 L533.0,480.5 L533.0,484.0 L520.0,483.5Z" fill="#8a8a8a"/>
<path d="M218.9,464.4 Q207.6,460.3 218.8,456.0 L384.8,393.0 L564.1,456.8 Q566.0,457.5 564.1,458.2 L403.9,522.8 Q403.0,523.2 402.0,523.2 L382.0,522.8 Q379.0,522.8 376.2,521.8 Z" fill="#0e0e0e" transform="translate(0,3.6)"/>
<path d="M218.9,464.4 Q207.6,460.3 218.8,456.0 L384.8,393.0 L564.1,456.8 Q566.0,457.5 564.1,458.2 L403.9,522.8 Q403.0,523.2 402.0,523.2 L382.0,522.8 Q379.0,522.8 376.2,521.8 Z" fill="url(#mbtop)"/>
<path d="M217.0,463.8 L379.0,523.3 L403.0,523.7" stroke="#5a5a5a" stroke-width="1" fill="none" opacity=".8"/>
<path d="M403.0,523.7 L565.0,458.5" stroke="#3a3a3a" stroke-width="1" fill="none" opacity=".8"/>
<path d="M303.0,456.5 L349.0,438.5 L380.0,451.5 L335.0,469.5Z" fill="#262626"/>
<path d="M308.0,455.5 L348.5,440.5 L376.0,452.0 L336.0,467.0Z" fill="#444"/>
<ellipse cx="231.0" cy="455.0" rx="2" ry="1.3" fill="#0c0c0c"/><ellipse cx="231.0" cy="455.0" rx="2.6" ry="1.8" fill="none" stroke="#555" stroke-width=".5"/>
<ellipse cx="298.0" cy="452.5" rx="2" ry="1.3" fill="#0c0c0c"/><ellipse cx="298.0" cy="452.5" rx="2.6" ry="1.8" fill="none" stroke="#555" stroke-width=".5"/>
<ellipse cx="345.0" cy="434.5" rx="2" ry="1.3" fill="#0c0c0c"/><ellipse cx="345.0" cy="434.5" rx="2.6" ry="1.8" fill="none" stroke="#555" stroke-width=".5"/>
<ellipse cx="352.0" cy="472.5" rx="2" ry="1.3" fill="#0c0c0c"/><ellipse cx="352.0" cy="472.5" rx="2.6" ry="1.8" fill="none" stroke="#555" stroke-width=".5"/>
<ellipse cx="403.0" cy="453.0" rx="2" ry="1.3" fill="#0c0c0c"/><ellipse cx="403.0" cy="453.0" rx="2.6" ry="1.8" fill="none" stroke="#555" stroke-width=".5"/>
<ellipse cx="381.0" cy="511.0" rx="2" ry="1.3" fill="#0c0c0c"/><ellipse cx="381.0" cy="511.0" rx="2.6" ry="1.8" fill="none" stroke="#555" stroke-width=".5"/>
<path d="M246.0,463.5 q2,-1.6 3.5,0.6 t3.5,1" stroke="#6a6a6a" stroke-width=".9" fill="none"/>
<path d="M256.0,467.0 q2,-1.6 3.5,0.6 t3.5,1" stroke="#6a6a6a" stroke-width=".9" fill="none"/>
<path d="M264.0,470.0 q2,-1.6 3.5,0.6 t3.5,1" stroke="#6a6a6a" stroke-width=".9" fill="none"/>
<path d="M281.0,475.0 q2,-1.6 3.5,0.6 t3.5,1" stroke="#6a6a6a" stroke-width=".9" fill="none"/>
<path d="M291.0,478.5 q2,-1.6 3.5,0.6 t3.5,1" stroke="#6a6a6a" stroke-width=".9" fill="none"/>
<path d="M299.0,481.5 q2,-1.6 3.5,0.6 t3.5,1" stroke="#6a6a6a" stroke-width=".9" fill="none"/>
<circle cx="300.0" cy="488.0" r=".8" fill="#7a7a7a"/>
<circle cx="309.0" cy="491.2" r=".8" fill="#7a7a7a"/>
<circle cx="318.0" cy="494.4" r=".8" fill="#7a7a7a"/>
<circle cx="327.0" cy="497.6" r=".8" fill="#7a7a7a"/>
<circle cx="336.0" cy="500.8" r=".8" fill="#7a7a7a"/>
<circle cx="345.0" cy="504.0" r=".8" fill="#7a7a7a"/>
<rect x="459.0" y="418.2" width="2.2" height="6.0" fill="#f0f0f0"/>
<rect x="457.8" y="418.2" width="5" height="1.6" fill="#e6e6e6"/>
<rect x="463.2" y="419.6" width="2.2" height="7.5" fill="#c8c8c8"/>
<rect x="463.2" y="425.8" width="4.4" height="1.4" fill="#b0b0b0"/>
<rect x="467.4" y="421.1" width="1.8" height="5.0" fill="#f0f0f0"/>
<rect x="471.6" y="422.6" width="2.8" height="7.5" fill="#9a9a9a"/>
<rect x="470.4" y="422.6" width="5" height="1.6" fill="#e6e6e6"/>
<rect x="475.8" y="424.0" width="1.8" height="5.0" fill="#dcdcdc"/>
<rect x="480.0" y="425.4" width="2.2" height="7.0" fill="#c8c8c8"/>
<rect x="480.0" y="431.1" width="4.4" height="1.4" fill="#b0b0b0"/>
<rect x="484.2" y="426.9" width="2.2" height="5.0" fill="#c8c8c8"/>
<rect x="483.0" y="426.9" width="5" height="1.6" fill="#e6e6e6"/>
<rect x="488.4" y="428.3" width="2.8" height="5.0" fill="#9a9a9a"/>
<rect x="492.6" y="429.8" width="1.8" height="7.0" fill="#c8c8c8"/>
<rect x="496.8" y="431.2" width="2.2" height="7.0" fill="#9a9a9a"/>
<rect x="495.6" y="431.2" width="5" height="1.6" fill="#e6e6e6"/>
<rect x="496.8" y="436.9" width="4.4" height="1.4" fill="#b0b0b0"/>
<rect x="501.0" y="432.7" width="2.8" height="5.0" fill="#9a9a9a"/>
<rect x="505.2" y="434.1" width="2.8" height="7.5" fill="#c8c8c8"/>
<rect x="509.4" y="435.6" width="1.8" height="6.0" fill="#f6f6f6"/>
<rect x="508.2" y="435.6" width="5" height="1.6" fill="#e6e6e6"/>
<rect x="513.6" y="437.1" width="1.8" height="7.0" fill="#dcdcdc"/>
<rect x="513.6" y="442.7" width="4.4" height="1.4" fill="#b0b0b0"/>
<rect x="517.8" y="438.5" width="1.8" height="7.0" fill="#9a9a9a"/>
<rect x="522.0" y="439.9" width="2.8" height="7.0" fill="#c8c8c8"/>
<rect x="520.8" y="439.9" width="5" height="1.6" fill="#e6e6e6"/>
<rect x="526.2" y="441.4" width="2.2" height="7.5" fill="#dcdcdc"/>
<rect x="530.4" y="442.8" width="2.2" height="7.0" fill="#f6f6f6"/>
<rect x="530.4" y="448.4" width="4.4" height="1.4" fill="#b0b0b0"/>
<rect x="534.6" y="444.3" width="1.8" height="6.0" fill="#9a9a9a"/>
<rect x="533.4" y="444.3" width="5" height="1.6" fill="#e6e6e6"/>
<rect x="538.8" y="445.8" width="1.8" height="7.0" fill="#f0f0f0"/>
<rect x="543.0" y="447.2" width="2.2" height="5.0" fill="#9a9a9a"/>
<rect x="547.2" y="448.6" width="2.8" height="7.5" fill="#9a9a9a"/>
<rect x="546.0" y="448.6" width="5" height="1.6" fill="#e6e6e6"/>
<rect x="547.2" y="454.8" width="4.4" height="1.4" fill="#b0b0b0"/>
<rect x="551.4" y="450.1" width="2.8" height="6.0" fill="#c8c8c8"/>
<rect x="555.6" y="451.6" width="2.2" height="5.0" fill="#c8c8c8"/>
<rect x="559.8" y="453.0" width="2.2" height="7.5" fill="#c8c8c8"/>
<rect x="558.6" y="453.0" width="5" height="1.6" fill="#e6e6e6"/>
<path d="M524.0,447.0 L566.0,461.0 L566.0,466.0 L524.0,452.0Z" fill="#0d0d0d"/>
<rect x="527.0" y="449.0" width="2.4" height="2.6" fill="#cfcfcf"/>
<rect x="532.4" y="450.8" width="2.4" height="2.6" fill="#cfcfcf"/>
<rect x="537.8" y="452.6" width="2.4" height="2.6" fill="#cfcfcf"/>
<rect x="543.2" y="454.4" width="2.4" height="2.6" fill="#cfcfcf"/>
<rect x="548.6" y="456.2" width="2.4" height="2.6" fill="#cfcfcf"/>
<rect x="554.0" y="458.0" width="2.4" height="2.6" fill="#cfcfcf"/>
<rect x="559.4" y="459.8" width="2.4" height="2.6" fill="#cfcfcf"/>
<path d="M489.0,473.0 L506.0,467.0 L506.0,478.0 L489.0,484.0Z" fill="#262626"/>
<rect x="490.0" y="474.0" width="1.4" height="5" fill="#bbb"/>
<rect x="494.2" y="472.6" width="1.4" height="5" fill="#bbb"/>
<rect x="498.4" y="471.2" width="1.4" height="5" fill="#bbb"/>
<rect x="502.6" y="469.8" width="1.4" height="5" fill="#bbb"/>
<circle cx="444" cy="431" r="1.6" fill="#bbb"/><circle cx="447" cy="512" r="1" fill="#888"/>
</g>
<g id="rad">
<path d="M244.6,374.0 Q244.5,372.0 246.4,372.6 L390.0,420.0 L390.0,442.5 L247.9,394.6 Q246.0,394.0 245.9,392.0 Z" fill="#2c2c2c"/>
<path d="M247.0,374.0 L390.0,421.5 L390.0,438.5 L247.0,390.5Z" fill="url(#fins)"/>
<path d="M246.0,390.5 L390.0,438.5 L390.0,442.5 L246.0,394.0Z" fill="#3a3a3a"/>
<path d="M390.0,420.0 L547.1,366.6 Q549.0,366.0 549.0,368.0 L549.0,385.5 Q549.0,387.5 547.1,388.2 L390.0,442.5 Z" fill="#303030"/>
<path d="M390.0,421.5 L398.5,418.6 L398.5,435.5 L390.0,438.5Z" fill="url(#fins)"/>
<path d="M399.0,420.5 L548.0,370.0" stroke="#4c4c4c" stroke-width="1" fill="none"/>
<path d="M392.0,440.5 L548.0,386.0" stroke="#3e3e3e" stroke-width="1.4" fill="none"/>
<circle cx="402" cy="423.5" r="1.4" fill="#0a0a0a"/><circle cx="543.5" cy="374.5" r="1.4" fill="#0a0a0a"/>
<path d="M246.4,372.6 Q244.5,372.0 246.4,371.4 L400.0,322.0 L547.1,365.4 Q549.0,366.0 547.1,366.6 L390.9,419.7 Q390.0,420.0 389.1,419.7 Z" fill="url(#radtop)"/>
<path d="M244.5,372.0 L390.0,420.0 L549.0,366.0" stroke="#555" stroke-width="1" fill="none"/>
<ellipse cx="384.4" cy="371.5" rx="81.8" ry="28.2" fill="#131313"/>
<g clip-path="url(#fanc)">
<ellipse cx="384.4" cy="377.5" rx="81.8" ry="28.2" fill="#0b0b0b"/>
<rect x="452.0" y="350" width=".9" height="34" fill="#9a9a9a" opacity="0.35"/>
<rect x="453.7" y="350" width=".9" height="34" fill="#9a9a9a" opacity="0.41"/>
<rect x="455.4" y="350" width=".9" height="34" fill="#9a9a9a" opacity="0.47"/>
<rect x="457.1" y="350" width=".9" height="34" fill="#9a9a9a" opacity="0.53"/>
<rect x="458.8" y="350" width=".9" height="34" fill="#9a9a9a" opacity="0.59"/>
<rect x="460.5" y="350" width=".9" height="34" fill="#9a9a9a" opacity="0.65"/>
<rect x="462.2" y="350" width=".9" height="34" fill="#9a9a9a" opacity="0.71"/>
<rect x="463.9" y="350" width=".9" height="34" fill="#9a9a9a" opacity="0.77"/>
<rect x="465.6" y="350" width=".9" height="34" fill="#9a9a9a" opacity="0.83"/>
<path d="M352,367 L318,357 Q308,361 306,368 L330,372 Z" fill="#262626"/>
<path d="M352,373 L314,384 Q324,393 342,397 L368,378 Z" fill="#1c1c1c"/>
<path d="M372,380 L348,397.5 Q362,400 374,400 L385,380 Z" fill="#191919"/>
<path d="M386,380 L383,399.5 Q394,400 402,396 L400,386 Z" fill="#8e8e8e"/>
<path d="M392,380 L400,395 Q408,396 420,392 L404,378 Z" fill="#2a2a2a"/>
<path d="M408,378 L432,394 Q448,389 458,381 L418,373 Z" fill="#303030"/>
<path d="M416,370 L462,376 Q466,366 458,358 L414,365 Z" fill="#1d1d1d"/>
<path d="M360,362 L340,349 Q322,351 314,356 L352,366 Z" fill="#1b1b1b"/>
<path d="M369,380 Q357,386 347.5,396.5 L350,397.3 Q360,388 371.5,381.5Z" fill="#dcdcdc"/>
<path d="M386,380 L383.5,399 L390,398 Z" fill="#d0d0d0"/>
<path d="M320,386 L351,376.6 L351.4,377.8 L321,387.6Z" fill="#6a6a6a"/>
<path d="M318,357.6 L352,366.6 L352,367.6 L317.6,358.8Z" fill="#505050"/>
<ellipse cx="433.5" cy="392" rx="2.2" ry="1.4" fill="#c8c8c8"/>
</g>
<ellipse cx="383.4" cy="371.3" rx="32.8" ry="9.3" fill="#7a7a7a"/>
<ellipse cx="384" cy="370.2" rx="32.8" ry="9.1" fill="#2c2c2c"/>
<path d="M353,370.4 h17 M402,369.4 h10" stroke="#111" stroke-width="1"/><circle cx="384.6" cy="368.6" r=".9" fill="#999"/>
</g>
<g id="case">
<path d="M198.6,209.0 L391.0,150.0 L581.1,208.9 Q583.0,209.5 583.0,211.5 L583.0,293.0 Q583.0,297.0 579.2,298.3 L409.7,357.5 Q404.0,359.5 398.1,360.5 L396.5,360.8 Q389.0,362.0 381.6,360.3 L377.8,359.4 Q372.0,358.0 366.3,356.0 L206.7,300.6 Q202.0,299.0 201.8,294.0 Z" fill="url(#cfl)"/>
<path d="M258.0,210.8 L390.0,171.5 L523.0,213.0 L396.0,255.5Z" fill="#333"/>
<path d="M262.0,210.5 L363.5,180.0 L363.5,244.0Z" fill="url(#ventw)"/>
<path d="M262.7,212.6 Q258.0,211.0 262.8,209.6 L364.0,179.0 L364.0,246.0 Z" fill="none" stroke="#2c2c2c" stroke-width="3.4"/>
<rect x="363" y="168" width="40" height="72" fill="#2b2b2b"/>
<rect x="374" y="180" width="7" height="58" fill="#3d3d3d"/><rect x="386" y="180" width="4" height="58" fill="#585858"/><rect x="392" y="180" width="9" height="58" fill="#383838"/>
<path d="M402.0,174.0 L523.0,213.0 L426.0,247.0 L402.0,238.0Z" fill="#3b3b3b"/>
<path d="M414.0,199.0 L432.0,205.0 L432.0,217.0 L414.0,211.0Z" fill="#f6f6f6"/>
<path d="M414.0,216.0 L432.0,222.0 L432.0,234.0 L414.0,228.0Z" fill="#f6f6f6"/>
<path d="M448.0,208.5 L470.0,215.5 L470.0,226.0 L448.0,219.0Z" fill="#f6f6f6"/>
<path d="M478.0,218.0 L489.0,221.5 L489.0,229.0 L478.0,225.5Z" fill="#f6f6f6"/>
<path d="M436.0,196.0 L440.0,197.3 L440.0,240.0 L436.0,241.0Z" fill="#2a2a2a"/>
<path d="M473.0,208.0 L476.0,209.0 L476.0,232.0 L473.0,233.0Z" fill="#2a2a2a"/>
<path d="M440.0,194.5 L478.0,207.0 L478.0,209.4 L440.0,197.0Z" fill="#c4c4c4"/>
<path d="M357.9,247.2 Q355.0,246.5 357.8,245.5 L375.4,239.1 Q381.0,237.0 387.0,237.0 L395.0,237.0 Q401.0,237.0 406.6,239.2 L424.2,245.9 Q427.0,247.0 424.1,247.9 L401.8,255.3 Q398.0,256.5 394.1,255.6 Z" fill="#fdfdfd"/>
<path d="M425.0,280.0 Q425.0,278.0 426.9,277.4 L559.1,234.8 Q561.0,234.2 561.0,236.2 L561.0,292.5 Q561.0,294.5 559.1,295.1 L426.9,333.4 Q425.0,334.0 425.0,332.0 Z" fill="url(#ventd)"/>
<path d="M567,291 l4,-1.4 l0,-14 l-4,1.4Z" fill="#242424" stroke="#6a6a6a" stroke-width=".7"/><circle cx="569" cy="269" r="1.1" fill="#777"/>
<g clip-path="url(#rimc)">
<rect x="195" y="148" width="200" height="130" fill="url(#rimL)"/>
<path d="M392.0,290.0 L583.0,215.0 L583.0,205.0 L523.0,213.0 L396.0,255.5Z" fill="url(#rimR)"/>
<path d="M391.0,151.0 L583.0,205.0 L583.0,215.0 L523.0,213.0 L390.0,171.5Z" fill="#4e4e4e"/>
</g>
<path d="M416.0,180.5 L464.0,196.0 L464.0,200.6 L416.0,185.0Z" fill="#f4f4f4"/>
<path d="M470.0,198.0 L516.0,213.0 L514.0,216.4 L470.0,202.4Z" fill="#f4f4f4"/>
<path d="M412.0,174.8 L518.1,209.2 Q520.0,209.8 521.4,211.3 L522.8,212.8 Q524.5,214.6 522.0,215.1 L519.5,215.5 Q517.0,216.0 514.6,215.2 L412.0,181.2 Z" fill="#dedede"/>
<path d="M413.0,178.0 L519.0,212.4 L518.0,214.6 L413.0,180.4Z" fill="#fafafa"/>
<path d="M440.0,163.0 L582.5,207.6 L583.0,211.5 L440.0,166.8Z" fill="#d4d4d4"/>
<path d="M570.0,204.0 L583.0,208.2 L583.6,212.5 L578.0,208.5Z" fill="#f2f2f2"/>
<path d="M198.6,210.7 Q197.6,209.0 199.5,208.4 L380.0,152.7 L380.0,155.7 L204.0,211.5 Q203.0,211.8 202.0,212.0 L201.2,212.1 Q199.5,212.4 198.6,210.9 Z" fill="#1c1c1c"/>
<path d="M202.5,211.6 L376,270 Q389,274.5 402,270" stroke="#b2b2b2" stroke-width="1" fill="none" opacity=".9"/>
<path d="M402,270 L582,211.5" stroke="#6e6e6e" stroke-width="1" fill="none"/>
<path d="M221.0,213.5 l6.0,2.0" stroke="#222" stroke-width="1.6" stroke-linecap="round"/>
<path d="M301.0,181.0 l6.0,-1.8" stroke="#222" stroke-width="1.6" stroke-linecap="round"/>
<path d="M296.0,237.5 l6.0,2.0" stroke="#222" stroke-width="1.6" stroke-linecap="round"/>
<path d="M367.0,259.0 l6.0,2.0" stroke="#222" stroke-width="1.6" stroke-linecap="round"/>
<ellipse cx="447" cy="248" rx="3" ry="1.6" fill="#222"/><ellipse cx="447.6" cy="248.4" rx="3.8" ry="2.2" fill="none" stroke="#666" stroke-width=".5"/><ellipse cx="506" cy="194.5" rx="1.6" ry="1" fill="#1a1a1a"/>
<path d="M467,240.5 l5,-1.7 M549,212 l4,-1.3" stroke="#222" stroke-width="1.4" stroke-linecap="round"/>
<path d="M221.0,264.0 L242.5,271.2 L242.5,283.0 L221.0,275.8Z" fill="#2a2a2a"/>
<path d="M226.0,270.0 L242.5,275.6 L242.5,283.0 L226.0,277.4Z" fill="#505050"/>
<path d="M229.0,266.7 L232.0,267.7 L231.0,270.4 L229.0,269.6Z" fill="#e8e8e8"/>
<path d="M254.0,274.0 L276.5,281.5 L276.5,293.5 L254.0,286.0Z" fill="#333"/>
<path d="M257.5,277.8 L276.5,284.1 L276.5,293.5 L257.5,287.2Z" fill="#fbfbfb"/>
<path d="M292,286.5 l11,3.7 a3.6,4.4 0 0 1 0,8.6 l-11,-3.7 a3.6,4.4 0 0 1 0,-8.6Z" fill="#fafafa" stroke="#2c2c2c" stroke-width="2.2"/>
<ellipse cx="324" cy="297.5" rx="5.6" ry="7" fill="#2e2e2e"/><ellipse cx="325.6" cy="298" rx="3.4" ry="4.6" fill="#fafafa"/>
<ellipse cx="345.5" cy="308" rx="9" ry="12.2" fill="#2c2c2c"/><ellipse cx="347.4" cy="308.6" rx="6.2" ry="9.2" fill="#fbfbfb"/>
<circle cx="361.5" cy="310.5" r="1.1" fill="#222"/>
<text transform="matrix(1,0.34,0,1,226.0,286.5)" font-family="Liberation Sans, sans-serif" font-size="4.2" fill="#555" opacity=".75" textLength="8" lengthAdjust="spacingAndGlyphs">SS</text>
<text transform="matrix(1,0.34,0,1,259.0,296.5)" font-family="Liberation Sans, sans-serif" font-size="4.2" fill="#555" opacity=".75" textLength="8" lengthAdjust="spacingAndGlyphs">SS</text>
<text transform="matrix(1,0.34,0,1,288.5,304.8)" font-family="Liberation Sans, sans-serif" font-size="4.2" fill="#555" opacity=".75" textLength="14" lengthAdjust="spacingAndGlyphs">TYPE-C</text>
<path d="M323,311 l2.5,-4 l2.5,5.6" stroke="#666" stroke-width=".8" fill="none" opacity=".7"/><circle cx="362" cy="318" r="1.6" fill="none" stroke="#777" stroke-width=".7"/>
</g>
<g id="lid">
<rect x="220.0" y="131.0" width="6.5" height="9.5" fill="#858585"/>
<rect x="297.5" y="155.0" width="7.0" height="9.5" fill="#858585"/>
<rect x="476.0" y="153.0" width="6.0" height="11.0" fill="#3a3a3a"/>
<rect x="555.0" y="130.0" width="6.0" height="6.0" fill="#444"/>
<path d="M207.0,126.0 Q196.5,122.7 207.0,119.6 L371.7,70.5 Q388.0,65.6 404.3,70.3 L571.7,118.1 Q588.0,122.8 571.7,127.7 L398.6,180.2 Q390.0,182.8 381.4,180.1 Z" fill="#8e8e8e" transform="translate(0,1.8)"/>
<g clip-path="url(#lidc)" transform="translate(0,1.8)"><rect x="395" y="100" width="200" height="100" fill="#2b2b2b"/><rect x="326" y="150" width="70" height="40" fill="#3a3a3a"/></g>
<path d="M207.0,126.0 Q196.5,122.7 207.0,119.6 L371.7,70.5 Q388.0,65.6 404.3,70.3 L571.7,118.1 Q588.0,122.8 571.7,127.7 L398.6,180.2 Q390.0,182.8 381.4,180.1 Z" fill="url(#lidg)"/>
<g clip-path="url(#lidc)">
<rect x="195" y="60" width="395" height="103" fill="url(#ridge)"/>
<path d="M318,162.5 L462,162.5 L462,190 L318,190Z" fill="url(#bandg)"/>
</g>
<path d="M358.6,125.0 Q352.5,122.8 358.6,120.6 L384.9,111.2 Q391.0,109.0 397.1,111.2 L423.4,120.6 Q429.5,122.8 423.4,125.0 L397.1,134.4 Q391.0,136.6 384.9,134.4 Z M367.2,124.5 Q362.5,122.8 367.2,121.1 L386.3,114.3 Q391.0,112.6 395.7,114.3 L414.8,121.1 Q419.5,122.8 414.8,124.5 L395.7,131.3 Q391.0,133.0 386.3,131.3 Z" fill="#b4b4b4" fill-rule="evenodd"/>
<path d="M369.4,124.3 Q365.2,122.8 369.4,121.3 L386.8,115.1 Q391.0,113.6 395.2,115.1 L412.6,121.3 Q416.8,122.8 412.6,124.3 L395.2,130.5 Q391.0,132.0 386.8,130.5 Z M379.8,124.1 Q376.0,122.8 379.8,121.5 L387.2,118.9 Q391.0,117.6 394.8,118.9 L402.2,121.5 Q406.0,122.8 402.2,124.1 L394.8,126.7 Q391.0,128.0 387.2,126.7 Z" fill="#b4b4b4" fill-rule="evenodd"/>
<path d="M365,118.6 l7.5,-3 M409.5,130 l7.5,-3" stroke="#444" stroke-width="1.6" fill="none"/>
<path d="M377,114 l6,2.6 M399,129 l6,2.6" stroke="#444" stroke-width="1.3" fill="none"/>
<text x="389" y="170.8" font-family="Liberation Sans, sans-serif" font-size="7.5" fill="#c4c4c4" text-anchor="middle" textLength="53" lengthAdjust="spacingAndGlyphs" opacity=".7">Mini PC</text>
</g>
<!--LINES-->
<g id="lines" stroke="#0c0c0c" stroke-width="2.2" fill="none">
<line x1="168" y1="248" x2="218.4" y2="248"/>
<line x1="152.3" y1="370.3" x2="300" y2="370.3"/>
<line x1="152.3" y1="450.8" x2="342.4" y2="450.8"/>
<line x1="216.8" y1="545.2" x2="275.2" y2="545.2"/>
<line x1="207.2" y1="600.4" x2="304" y2="600.4"/>
<line x1="536.5" y1="379.8" x2="625" y2="379.8"/>
<line x1="524.8" y1="465.7" x2="632.5" y2="465.7"/>
<line x1="491" y1="530.4" x2="580.5" y2="530.4"/>
<line x1="566" y1="662" x2="618" y2="662"/>
</g>
<circle cx="642" cy="720" r=".8" fill="#d8d8d8"/><circle cx="676" cy="720" r=".9" fill="#bbb"/>
<g id="text" opacity=".999">
<text x="103.0" y="48.3" font-size="43" letter-spacing="-0.37" font-family="Liberation Sans, sans-serif" fill="#333">Product</text>
<text x="269.3" y="48.3" font-size="43" letter-spacing="0.75" font-family="Liberation Sans, sans-serif" fill="#333">Organization</text>
<text x="536.0" y="48.3" font-size="43" letter-spacing="0.20" font-family="Liberation Sans, sans-serif" fill="#333">Chart</text>
<text x="11.1" y="255.0" font-size="27" letter-spacing="0.58" font-family="Liberation Sans, sans-serif" fill="#333">Plastic case</text>
<text x="98.0" y="377.8" font-size="27" letter-spacing="1.30" font-family="Liberation Sans, sans-serif" fill="#333">Fan</text>
<text x="631.1" y="388.0" font-size="27" letter-spacing="0.74" font-family="Liberation Sans, sans-serif" fill="#333">Radiator</text>
<text x="580.0" y="451.0" font-size="27" letter-spacing="0.73" font-family="Liberation Sans, sans-serif" fill="#333">Motherboard</text>
<text x="591.2" y="655.0" font-size="27" letter-spacing="0.60" font-family="Liberation Sans, sans-serif" fill="#333">Plastic</text>
<text x="592.0" y="685.0" font-size="27" letter-spacing="0.54" font-family="Liberation Sans, sans-serif" fill="#333">bottom case</text>
<text x="12.8" y="595.0" font-size="19" letter-spacing="1.20" font-family="Liberation Sans, sans-serif" fill="#2e2e2e">Expandable SATA</text>
<text x="13.4" y="617.5" font-size="19" letter-spacing="0.97" font-family="Liberation Sans, sans-serif" fill="#2e2e2e">2.5-inch 7mm HDD</text>
<text x="12.8" y="640.0" font-size="19" letter-spacing="0.91" font-family="Liberation Sans, sans-serif" fill="#2e2e2e">(HDD is not included</text>
<text x="13.4" y="662.5" font-size="19" letter-spacing="1.11" font-family="Liberation Sans, sans-serif" fill="#2e2e2e">in the factory, SATA</text>
<text x="13.4" y="685.0" font-size="19" letter-spacing="0.81" font-family="Liberation Sans, sans-serif" fill="#2e2e2e">cable is</text>
<text x="13.4" y="707.5" font-size="19" letter-spacing="0.93" font-family="Liberation Sans, sans-serif" fill="#2e2e2e">purchased separately)</text>
<text x="105.4" y="457.6" font-size="19.2" letter-spacing="0.20" font-family="Noto Sans CJK SC, DejaVu Sans, sans-serif" font-weight="700" fill="#1c1c1c">CPU</text>
<text x="30.8" y="553.0" font-size="19" letter-spacing="0.66" font-family="Noto Sans CJK SC, DejaVu Sans, sans-serif" font-weight="700" fill="#1c1c1c">M.2 2280 PCle SSD</text>
<text x="586.0" y="539.0" font-size="19" letter-spacing="0.71" font-family="Noto Sans CJK SC, DejaVu Sans, sans-serif" font-weight="700" fill="#1c1c1c">SO-DIMM DDR4</text>
</g>
</svg>
</body>
</html>
